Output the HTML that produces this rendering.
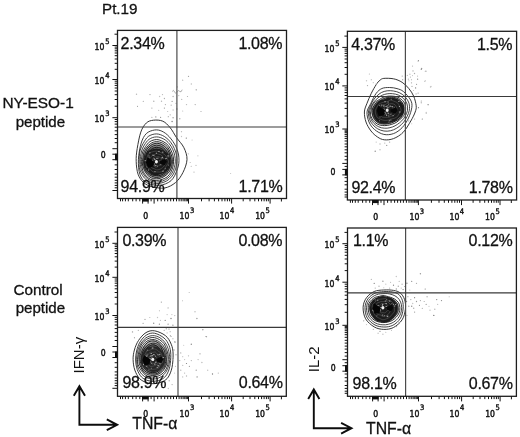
<!DOCTYPE html>
<html lang="en"><head><meta charset="utf-8"><title>Pt.19 cytokine flow cytometry</title>
<style>html,body{margin:0;padding:0;background:#fff}svg{display:block}</style></head>
<body>
<svg width="520" height="437" viewBox="0 0 520 437">
<rect width="520" height="437" fill="#fff"/>
<text x="102.00" y="14.40" font-family='"Liberation Sans", Arial, Helvetica, sans-serif' font-size="15.20" font-weight="normal" text-anchor="start" fill="#111" stroke="#111" stroke-width="0.3">Pt.19</text>
<text x="38.10" y="108.30" font-family='"Liberation Sans", Arial, Helvetica, sans-serif' font-size="15.40" font-weight="normal" text-anchor="middle" fill="#111" stroke="#111" stroke-width="0.3">NY-ESO-1</text>
<text x="40.40" y="126.60" font-family='"Liberation Sans", Arial, Helvetica, sans-serif' font-size="15.10" font-weight="normal" text-anchor="middle" fill="#111" stroke="#111" stroke-width="0.3">peptide</text>
<text x="38.10" y="294.60" font-family='"Liberation Sans", Arial, Helvetica, sans-serif' font-size="15.30" font-weight="normal" text-anchor="middle" fill="#111" stroke="#111" stroke-width="0.3">Control</text>
<text x="40.40" y="312.70" font-family='"Liberation Sans", Arial, Helvetica, sans-serif' font-size="15.10" font-weight="normal" text-anchor="middle" fill="#111" stroke="#111" stroke-width="0.3">peptide</text>
<path d="M153.6 120.2C150.8 120.5 148.4 121.0 146.3 123.0C144.2 125.0 142.3 127.8 140.8 132.1C139.3 136.4 138.0 143.7 137.2 148.6C136.4 153.5 136.0 157.2 136.2 161.5C136.3 165.8 136.9 170.8 138.1 174.3C139.3 177.8 141.3 180.4 143.6 182.5C145.9 184.6 148.3 185.7 151.8 186.6C155.3 187.5 160.6 188.7 164.6 188.0C168.6 187.3 172.5 185.1 175.6 182.5C178.7 179.9 181.1 176.2 183.0 172.4C184.9 168.6 186.8 163.7 187.0 159.6C187.2 155.5 185.7 151.4 183.9 147.7C182.2 144.0 178.8 140.9 176.5 137.6C174.2 134.2 172.4 130.3 170.1 127.6C167.8 124.9 165.6 122.4 162.8 121.2C160.1 120.0 156.3 119.9 153.6 120.2Z" fill="none" stroke="#2a2a2a" stroke-width="0.95"/>
<path d="M154.6 130.0C152.0 130.4 148.5 131.4 146.3 133.6C144.1 135.8 142.5 138.8 141.2 143.1C139.9 147.4 138.6 154.4 138.4 159.6C138.2 164.8 138.6 170.5 139.9 174.3C141.2 178.1 143.1 180.7 146.3 182.5C149.5 184.3 155.0 185.6 159.1 185.3C163.2 185.0 167.9 183.4 171.0 180.7C174.1 177.9 176.2 172.6 177.5 168.8C178.8 165.0 179.2 161.5 178.9 157.8C178.7 154.1 177.6 150.3 176.0 146.8C174.4 143.3 171.5 139.3 169.2 136.7C166.8 134.1 164.3 132.3 161.9 131.2C159.5 130.1 157.2 129.6 154.6 130.0Z" fill="none" stroke="#2a2a2a" stroke-width="0.90"/>
<path d="M139.2 161.8C139.2 159.9 139.1 158.2 139.3 156.2C139.4 154.3 139.6 152.2 140.2 150.1C140.9 147.9 141.8 145.8 143.1 143.5C144.5 141.3 146.0 138.2 148.2 136.5C150.4 134.9 153.7 133.9 156.4 133.9C159.1 133.9 162.2 135.2 164.6 136.6C167.0 138.0 169.0 140.2 170.6 142.2C172.3 144.2 173.4 146.6 174.4 148.7C175.4 150.9 176.1 153.1 176.5 155.3C176.9 157.5 177.1 159.7 176.9 161.8C176.8 163.9 176.3 166.0 175.8 168.1C175.2 170.1 174.5 172.3 173.4 174.1C172.3 176.0 170.8 177.9 169.1 179.3C167.4 180.7 165.2 181.8 163.1 182.5C161.0 183.2 158.6 183.6 156.4 183.5C154.2 183.4 151.8 182.9 149.8 182.0C147.8 181.2 146.0 179.7 144.5 178.2C143.1 176.6 142.0 174.7 141.1 172.9C140.3 171.1 139.7 169.2 139.3 167.3C139.0 165.5 139.2 163.7 139.2 161.8Z" fill="none" stroke="#262626" stroke-width="0.85"/>
<path d="M140.3 161.8C140.2 160.1 140.3 158.4 140.5 156.6C140.7 154.8 141.0 153.0 141.6 151.0C142.2 149.1 143.0 147.1 144.3 145.1C145.5 143.2 147.1 140.7 149.1 139.3C151.1 137.9 153.9 136.9 156.4 136.9C158.9 136.8 161.6 137.9 163.8 139.1C166.0 140.2 167.9 142.1 169.4 143.9C170.9 145.7 172.0 147.9 172.9 149.8C173.8 151.8 174.4 153.8 174.8 155.8C175.2 157.8 175.3 159.8 175.3 161.8C175.2 163.8 174.9 165.7 174.3 167.6C173.8 169.5 173.1 171.5 172.0 173.2C171.0 174.9 169.7 176.6 168.1 177.9C166.5 179.2 164.6 180.3 162.6 181.0C160.7 181.6 158.5 182.1 156.4 182.0C154.3 181.9 152.1 181.4 150.3 180.6C148.5 179.7 146.8 178.3 145.4 176.9C144.1 175.5 143.1 173.7 142.3 172.1C141.5 170.4 140.9 168.6 140.6 166.9C140.3 165.2 140.3 163.5 140.3 161.8Z" fill="none" stroke="#262626" stroke-width="0.85"/>
<path d="M142.0 161.8C142.0 160.3 142.2 158.8 142.5 157.3C142.8 155.8 143.2 154.2 143.9 152.7C144.5 151.2 145.3 149.6 146.5 148.1C147.6 146.7 149.1 145.2 150.7 144.3C152.4 143.4 154.5 142.7 156.4 142.6C158.3 142.6 160.5 143.1 162.2 143.9C164.0 144.7 165.6 146.0 166.9 147.3C168.3 148.6 169.4 150.2 170.2 151.7C171.1 153.3 171.8 155.0 172.2 156.7C172.6 158.3 172.8 160.1 172.8 161.8C172.8 163.5 172.6 165.3 172.0 166.9C171.5 168.5 170.8 170.1 169.8 171.5C168.8 172.9 167.6 174.3 166.2 175.3C164.8 176.4 163.2 177.3 161.6 177.8C160.0 178.4 158.1 178.7 156.4 178.7C154.7 178.7 152.8 178.3 151.3 177.6C149.7 176.9 148.3 175.8 147.1 174.6C145.9 173.5 145.0 172.0 144.2 170.7C143.5 169.3 142.9 167.8 142.6 166.3C142.2 164.8 142.1 163.3 142.0 161.8Z" fill="#ababab"/>
<path d="M143.0 161.8C143.0 160.4 143.2 159.0 143.5 157.6C143.9 156.2 144.4 154.9 145.1 153.6C145.8 152.3 146.7 151.0 147.8 150.0C148.9 148.9 150.2 147.9 151.7 147.3C153.1 146.6 154.8 146.2 156.4 146.2C158.0 146.1 159.7 146.5 161.2 147.0C162.7 147.6 164.2 148.4 165.4 149.4C166.7 150.3 167.9 151.5 168.8 152.8C169.7 154.1 170.5 155.6 170.9 157.1C171.4 158.6 171.7 160.2 171.7 161.8C171.7 163.4 171.4 165.0 170.9 166.5C170.3 168.0 169.5 169.4 168.6 170.6C167.6 171.8 166.4 172.9 165.1 173.8C163.8 174.6 162.4 175.3 160.9 175.8C159.5 176.2 157.9 176.5 156.4 176.4C154.9 176.4 153.3 176.1 151.9 175.6C150.5 175.0 149.2 174.2 148.1 173.2C147.0 172.3 146.0 171.1 145.3 169.9C144.5 168.7 143.9 167.3 143.6 166.0C143.2 164.6 143.0 163.2 143.0 161.8Z" fill="#666"/>
<path d="M141.3 161.8C141.3 160.2 141.5 158.7 141.8 157.0C142.0 155.4 142.1 153.6 142.7 151.9C143.3 150.1 144.3 148.5 145.5 146.7C146.7 145.0 148.0 142.8 149.9 141.6C151.7 140.5 154.2 139.6 156.4 139.6C158.6 139.5 161.0 140.5 163.0 141.5C165.0 142.4 166.9 143.9 168.3 145.5C169.6 147.1 170.5 149.2 171.3 151.0C172.1 152.8 172.9 154.5 173.2 156.3C173.6 158.1 173.6 160.0 173.5 161.8C173.5 163.6 173.3 165.4 172.8 167.1C172.4 168.9 171.7 170.7 170.8 172.3C169.9 173.9 168.7 175.6 167.3 176.8C165.8 178.0 163.9 178.8 162.1 179.4C160.3 180.0 158.3 180.5 156.4 180.5C154.5 180.5 152.4 180.1 150.7 179.4C149.0 178.6 147.3 177.4 146.1 176.0C144.8 174.7 144.0 172.9 143.2 171.4C142.5 169.8 142.1 168.2 141.8 166.6C141.4 165.0 141.3 163.4 141.3 161.8Z" fill="none" stroke="#0c0c0c" stroke-width="0.85"/>
<path d="M142.2 161.8C142.2 160.3 142.8 159.0 143.1 157.5C143.3 155.9 143.2 154.2 143.8 152.6C144.3 151.0 145.2 149.5 146.3 147.9C147.5 146.4 148.8 144.6 150.5 143.6C152.2 142.5 154.4 141.7 156.4 141.6C158.4 141.6 160.7 142.2 162.5 143.1C164.3 143.9 166.1 145.3 167.4 146.7C168.6 148.2 169.3 150.2 170.1 151.9C170.8 153.5 171.5 155.1 171.9 156.8C172.3 158.4 172.4 160.1 172.4 161.8C172.3 163.5 172.0 165.1 171.6 166.7C171.1 168.3 170.6 170.0 169.6 171.4C168.7 172.8 167.4 174.1 166.1 175.2C164.8 176.2 163.2 177.2 161.6 177.8C160.0 178.5 158.1 178.9 156.4 178.9C154.7 178.9 152.7 178.6 151.2 177.9C149.6 177.2 148.2 175.8 147.1 174.6C146.0 173.3 145.2 171.9 144.5 170.5C143.8 169.1 143.3 167.6 142.9 166.2C142.5 164.7 142.2 163.3 142.2 161.8Z" fill="none" stroke="#0c0c0c" stroke-width="0.85"/>
<path d="M143.8 161.8C143.8 160.5 144.0 159.2 144.2 157.8C144.4 156.5 144.5 155.0 145.0 153.5C145.5 152.0 146.1 150.4 147.1 149.1C148.2 147.7 149.5 146.2 151.0 145.3C152.6 144.3 154.6 143.4 156.4 143.3C158.2 143.2 160.3 143.9 161.9 144.7C163.6 145.5 165.2 146.8 166.4 148.1C167.5 149.4 168.4 151.1 169.1 152.6C169.7 154.1 169.9 155.8 170.3 157.3C170.6 158.8 171.2 160.3 171.1 161.8C171.1 163.3 170.5 164.8 170.0 166.2C169.5 167.7 169.1 169.1 168.3 170.5C167.6 171.8 166.6 173.2 165.4 174.2C164.2 175.2 162.6 175.8 161.1 176.4C159.6 176.9 158.0 177.5 156.4 177.5C154.8 177.4 153.2 176.7 151.8 176.1C150.3 175.4 149.0 174.6 147.9 173.5C146.8 172.5 146.0 171.1 145.4 169.8C144.8 168.5 144.4 167.1 144.2 165.8C143.9 164.4 143.8 163.1 143.8 161.8Z" fill="none" stroke="#0c0c0c" stroke-width="0.85"/>
<path d="M144.9 161.8C144.9 160.6 145.3 159.5 145.5 158.2C145.7 157.0 145.7 155.7 146.2 154.4C146.6 153.1 147.2 151.7 148.1 150.4C149.0 149.1 150.1 147.6 151.5 146.8C152.9 145.9 154.7 145.3 156.4 145.2C158.1 145.2 159.9 145.6 161.4 146.3C162.9 147.0 164.3 148.2 165.4 149.5C166.4 150.7 167.0 152.3 167.6 153.6C168.3 155.0 168.8 156.3 169.0 157.7C169.3 159.1 169.1 160.4 169.1 161.8C169.1 163.2 169.2 164.6 168.9 165.9C168.6 167.2 167.9 168.5 167.2 169.7C166.5 170.9 165.7 172.1 164.6 173.1C163.5 174.0 162.1 174.8 160.8 175.2C159.4 175.7 157.8 175.8 156.4 175.7C155.0 175.6 153.5 175.3 152.2 174.8C150.9 174.2 149.7 173.3 148.8 172.3C147.9 171.3 147.4 169.9 146.9 168.7C146.3 167.6 145.8 166.5 145.5 165.3C145.2 164.2 144.9 163.0 144.9 161.8Z" fill="none" stroke="#0c0c0c" stroke-width="0.85"/>
<path d="M146.6 161.8C146.6 160.8 146.7 159.8 146.9 158.7C147.0 157.6 147.3 156.6 147.7 155.4C148.0 154.3 148.3 152.7 149.0 151.6C149.8 150.5 150.9 149.5 152.2 148.8C153.4 148.0 155.0 147.4 156.4 147.3C157.8 147.2 159.5 147.7 160.8 148.3C162.1 148.9 163.4 149.8 164.3 150.9C165.2 151.9 165.6 153.5 166.2 154.7C166.7 155.9 167.2 157.0 167.5 158.2C167.8 159.4 167.9 160.6 167.9 161.8C167.9 163.0 167.9 164.3 167.6 165.4C167.3 166.6 166.7 167.8 166.1 168.8C165.4 169.9 164.6 171.0 163.6 171.7C162.6 172.5 161.4 173.0 160.2 173.4C159.0 173.8 157.6 174.2 156.4 174.2C155.2 174.2 153.8 173.7 152.7 173.2C151.5 172.8 150.4 172.0 149.6 171.2C148.7 170.4 148.0 169.3 147.5 168.2C147.1 167.2 147.1 166.0 146.9 164.9C146.8 163.8 146.6 162.8 146.6 161.8Z" fill="none" stroke="#0c0c0c" stroke-width="0.85"/>
<path d="M147.9 161.8C147.9 160.9 147.9 160.0 148.1 159.1C148.2 158.2 148.4 157.2 148.7 156.2C149.1 155.2 149.4 154.1 150.1 153.1C150.7 152.1 151.6 150.9 152.6 150.2C153.7 149.6 155.2 149.2 156.4 149.2C157.6 149.2 159.0 149.7 160.1 150.3C161.3 150.9 162.3 151.6 163.2 152.5C164.0 153.4 164.5 154.5 165.0 155.6C165.5 156.6 165.8 157.6 166.1 158.7C166.4 159.7 166.6 160.8 166.6 161.8C166.6 162.8 166.4 163.9 166.1 164.9C165.7 165.9 165.3 166.9 164.7 167.8C164.1 168.7 163.4 169.6 162.6 170.3C161.8 171.1 160.8 171.8 159.7 172.1C158.7 172.4 157.5 172.4 156.4 172.4C155.3 172.3 154.1 172.5 153.1 172.1C152.1 171.7 151.2 170.7 150.5 170.0C149.7 169.2 149.1 168.3 148.7 167.4C148.3 166.5 147.9 165.5 147.8 164.6C147.7 163.7 147.9 162.7 147.9 161.8Z" fill="none" stroke="#0c0c0c" stroke-width="0.85"/>
<path d="M143.7 161.8C143.7 160.5 143.9 159.1 144.3 157.9C144.7 156.6 145.5 155.5 146.2 154.4C146.9 153.3 147.5 151.8 148.6 151.0C149.6 150.2 151.1 149.9 152.4 149.5C153.7 149.2 155.1 148.9 156.4 148.8C157.7 148.8 159.2 148.9 160.5 149.2C161.8 149.6 163.1 150.2 164.3 150.9C165.5 151.6 166.8 152.5 167.7 153.6C168.6 154.7 169.3 156.1 169.7 157.5C170.2 158.8 170.5 160.4 170.5 161.8C170.5 163.2 170.3 164.8 169.8 166.2C169.3 167.5 168.4 168.7 167.5 169.8C166.5 170.9 165.5 172.0 164.3 172.7C163.2 173.4 161.7 173.6 160.4 174.0C159.0 174.5 157.7 175.3 156.4 175.4C155.1 175.4 153.5 175.0 152.3 174.4C151.1 173.9 150.0 172.9 148.9 172.1C147.9 171.2 146.9 170.3 146.1 169.3C145.4 168.2 144.7 167.0 144.3 165.7C143.9 164.5 143.7 163.1 143.7 161.8Z" fill="#1b1b1b"/>
<path d="M146.4 161.8C146.5 160.7 146.9 159.9 147.1 158.8C147.3 157.7 147.1 156.4 147.6 155.4C148.0 154.4 148.9 153.3 149.8 152.7C150.7 152.1 152.0 152.0 153.1 151.7C154.2 151.4 155.3 151.0 156.4 151.1C157.5 151.2 158.5 151.7 159.6 152.1C160.6 152.4 161.6 152.8 162.6 153.3C163.5 153.9 164.6 154.4 165.4 155.3C166.1 156.1 166.6 157.2 167.1 158.3C167.6 159.4 168.6 160.6 168.5 161.8C168.5 163.0 167.5 164.2 166.9 165.2C166.3 166.3 165.6 167.0 165.0 168.0C164.3 169.0 164.1 170.5 163.2 171.1C162.3 171.8 160.8 171.8 159.7 172.0C158.6 172.1 157.5 171.9 156.4 171.9C155.3 171.8 154.1 172.2 153.1 171.9C152.2 171.5 151.5 170.4 150.6 169.7C149.8 169.1 148.8 168.7 148.0 167.9C147.2 167.1 146.3 166.2 146.0 165.2C145.7 164.2 146.2 162.9 146.4 161.8Z" fill="none" stroke="#7a7a7a" stroke-width="0.40"/>
<path d="M148.5 161.8C148.3 161.1 148.7 160.1 149.0 159.4C149.4 158.7 150.1 158.2 150.6 157.6C151.1 157.0 151.4 156.2 152.0 155.8C152.6 155.3 153.4 155.2 154.2 154.9C154.9 154.5 155.6 153.7 156.4 153.6C157.2 153.6 158.0 154.1 158.8 154.3C159.7 154.5 160.7 154.5 161.3 155.0C162.0 155.5 162.4 156.4 162.8 157.1C163.3 157.8 163.6 158.5 164.0 159.3C164.4 160.1 165.1 160.9 165.3 161.8C165.5 162.7 165.3 163.8 165.0 164.6C164.7 165.4 164.0 166.2 163.4 166.9C162.8 167.5 162.0 168.1 161.3 168.5C160.6 169.0 159.7 169.4 158.9 169.6C158.1 169.8 157.2 169.9 156.4 169.8C155.6 169.6 154.9 169.0 154.2 168.7C153.4 168.4 152.5 168.4 151.9 167.9C151.3 167.5 150.8 166.8 150.5 166.1C150.2 165.4 150.3 164.6 149.9 163.9C149.6 163.2 148.6 162.5 148.5 161.8Z" fill="none" stroke="#7a7a7a" stroke-width="0.40"/>
<path d="M152.5 161.8C152.6 161.3 152.2 160.9 152.3 160.5C152.4 160.0 152.7 159.7 152.9 159.2C153.1 158.8 153.1 158.2 153.5 157.7C153.8 157.3 154.2 156.7 154.7 156.6C155.2 156.5 155.8 157.1 156.4 157.0C157.0 157.0 157.5 156.6 158.1 156.6C158.6 156.6 159.2 156.9 159.7 157.2C160.2 157.5 160.8 157.9 161.0 158.4C161.3 158.9 161.1 159.7 161.2 160.2C161.2 160.8 161.3 161.3 161.3 161.8C161.2 162.3 161.2 162.8 161.0 163.3C160.8 163.7 160.5 164.2 160.2 164.5C159.8 164.9 159.4 165.1 159.0 165.4C158.7 165.8 158.4 166.2 157.9 166.5C157.5 166.8 156.9 167.1 156.4 167.1C155.9 167.2 155.2 167.0 154.8 166.8C154.3 166.5 154.0 165.9 153.7 165.6C153.3 165.2 152.8 165.0 152.5 164.7C152.1 164.3 151.6 163.8 151.6 163.4C151.6 162.9 152.3 162.3 152.5 161.8Z" fill="none" stroke="#7a7a7a" stroke-width="0.40"/>
<path d="M148.6 157.2h1.1M154.4 171.6h1.1M151.2 166.2h1.5M161.9 152.2h1.5M162.0 157.5h0.8M157.1 166.1h0.8M148.3 160.4h1.1M155.0 165.6h1.5M147.6 162.9h1.1M151.9 155.1h0.8M144.6 160.7h1.5M148.5 155.8h0.8M167.7 156.8h0.8M151.8 161.0h1.5M155.9 153.2h1.1M167.9 165.1h0.8M151.3 165.0h1.1M162.2 171.2h1.5M167.4 155.8h1.5M153.6 158.8h1.5M149.7 161.0h0.8M164.9 168.7h0.8M153.0 155.3h1.5M154.1 159.6h1.5M165.3 162.8h0.8M154.1 163.9h0.8M158.2 151.4h1.5M159.5 160.9h0.8M165.3 158.5h1.5M160.3 164.8h1.1M164.7 159.2h1.1M162.0 162.1h1.5M148.0 170.0h1.1M146.5 167.0h0.8M154.3 165.1h0.8M161.2 157.9h1.5M156.2 158.4h1.5M157.7 158.1h0.8M148.3 165.1h1.1M149.3 152.9h1.1" fill="none" stroke="#d0d0d0" stroke-width="0.70"/>
<path d="M154.0 161.8l-6.5 -4.5l-1.5 5l2 5.5l5 -1Z" fill="#050505"/>
<path d="M159.6 161.3l5.5 -2.5l1.8 3l-2.2 3.5l-4.5 -1.5Z" fill="#080808"/>
<path d="M156.4 161.8m-1.5 0a1.5 1.7 0 1 0 3 0a1.5 1.7 0 1 0 -3 0Z" fill="#f4f4f4"/>
<circle cx="136.5" cy="94.2" r="0.70" fill="#b8b8b8"/>
<circle cx="150.0" cy="94.6" r="0.60" fill="#9a9a9a"/>
<circle cx="159.6" cy="96.5" r="0.70" fill="#c4c4c4"/>
<circle cx="162.5" cy="94.6" r="0.65" fill="#b8b8b8"/>
<circle cx="143.3" cy="101.3" r="0.65" fill="#acacac"/>
<circle cx="153.8" cy="101.3" r="0.70" fill="#acacac"/>
<circle cx="161.5" cy="101.3" r="0.70" fill="#b8b8b8"/>
<circle cx="164.4" cy="98.5" r="0.65" fill="#acacac"/>
<circle cx="137.5" cy="106.2" r="0.55" fill="#8c8c8c"/>
<circle cx="151.9" cy="108.1" r="0.55" fill="#9a9a9a"/>
<circle cx="158.7" cy="110.4" r="0.55" fill="#c4c4c4"/>
<circle cx="164.4" cy="108.1" r="0.65" fill="#9a9a9a"/>
<circle cx="171.2" cy="105.2" r="0.65" fill="#b4b4b4"/>
<circle cx="173.1" cy="96.5" r="0.70" fill="#acacac"/>
<circle cx="172.1" cy="101.3" r="0.65" fill="#8c8c8c"/>
<circle cx="170.2" cy="114.8" r="0.60" fill="#acacac"/>
<circle cx="173.1" cy="110.0" r="0.65" fill="#b8b8b8"/>
<circle cx="176.9" cy="109.0" r="0.65" fill="#8c8c8c"/>
<circle cx="182.7" cy="111.0" r="0.55" fill="#b8b8b8"/>
<circle cx="186.5" cy="104.6" r="0.70" fill="#b8b8b8"/>
<circle cx="195.2" cy="104.6" r="0.70" fill="#acacac"/>
<circle cx="201.0" cy="111.5" r="0.60" fill="#a8a8a8"/>
<circle cx="182.7" cy="80.2" r="0.60" fill="#acacac"/>
<circle cx="188.5" cy="76.3" r="0.65" fill="#9a9a9a"/>
<circle cx="191.3" cy="84.0" r="0.65" fill="#b8b8b8"/>
<circle cx="196.2" cy="89.8" r="0.60" fill="#7c7c7c"/>
<circle cx="187.5" cy="96.5" r="0.60" fill="#acacac"/>
<circle cx="181.7" cy="99.4" r="0.65" fill="#b8b8b8"/>
<circle cx="178.8" cy="95.6" r="0.60" fill="#b8b8b8"/>
<circle cx="173.1" cy="117.7" r="0.70" fill="#9a9a9a"/>
<circle cx="179.8" cy="118.7" r="0.70" fill="#acacac"/>
<circle cx="172.1" cy="121.5" r="0.70" fill="#7c7c7c"/>
<circle cx="168.3" cy="116.7" r="0.60" fill="#a8a8a8"/>
<circle cx="151.9" cy="117.3" r="0.60" fill="#a8a8a8"/>
<circle cx="155.8" cy="116.9" r="0.70" fill="#9a9a9a"/>
<circle cx="160.6" cy="117.3" r="0.60" fill="#8c8c8c"/>
<circle cx="165.4" cy="104.6" r="0.65" fill="#acacac"/>
<circle cx="167.7" cy="111.5" r="0.55" fill="#b8b8b8"/>
<circle cx="176.0" cy="103.3" r="0.65" fill="#b4b4b4"/>
<circle cx="177.3" cy="86.9" r="0.55" fill="#a8a8a8"/>
<circle cx="181.5" cy="131.7" r="0.65" fill="#b8b8b8"/>
<circle cx="181.5" cy="136.5" r="0.65" fill="#c4c4c4"/>
<circle cx="186.3" cy="138.1" r="0.65" fill="#7c7c7c"/>
<circle cx="192.1" cy="140.0" r="0.60" fill="#c4c4c4"/>
<circle cx="188.3" cy="153.8" r="0.65" fill="#b8b8b8"/>
<circle cx="197.9" cy="155.8" r="0.65" fill="#c4c4c4"/>
<circle cx="190.2" cy="162.5" r="0.60" fill="#b8b8b8"/>
<circle cx="196.0" cy="165.4" r="0.55" fill="#b8b8b8"/>
<circle cx="191.2" cy="166.3" r="0.60" fill="#b8b8b8"/>
<circle cx="194.0" cy="172.1" r="0.70" fill="#b8b8b8"/>
<circle cx="230.6" cy="173.5" r="0.60" fill="#c4c4c4"/>
<path d="M176.90 30.40V198.50" stroke="#4c4c4c" stroke-width="1.2" fill="none"/><path d="M117.50 127.00H286.50" stroke="#3a3a3a" stroke-width="1.15" fill="none"/>
<rect x="117.50" y="30.40" width="169.00" height="168.10" fill="none" stroke="#1e1e1e" stroke-width="1.3"/>
<path d="M201.5 198.5v2.8M209.1 198.5v2.8M214.4 198.5v2.8M218.6 198.5v2.8M222.0 198.5v2.8M224.9 198.5v2.8M227.4 198.5v2.8M229.6 198.5v2.8M243.2 198.5v2.8M250.0 198.5v2.8M254.8 198.5v2.8M258.5 198.5v2.8M261.6 198.5v2.8M264.1 198.5v2.8M266.4 198.5v2.8M268.3 198.5v2.8M281.4 198.5v3.0M188.5 198.5v5.1M231.6 198.5v5.1M270.1 198.5v5.1M120.5 198.5v2.8M122.6 198.5v2.8M125.4 198.5v2.8M128.3 198.5v2.8M132.7 198.5v2.8M136.1 198.5v2.8M139.8 198.5v2.8M151.1 198.5v2.8M157.7 198.5v2.8M161.2 198.5v2.8M164.7 198.5v2.8M167.7 198.5v2.8M170.7 198.5v2.8M173.5 198.5v2.8M176.5 198.5v2.8M179.1 198.5v2.8M181.2 198.5v2.8M183.1 198.5v2.8M184.8 198.5v2.8M186.2 198.5v2.8M187.4 198.5v2.8M142.6 198.5v5.1M148.1 198.5v5.1M154.1 198.5v5.1M117.5 106.2h-2.8M117.5 99.5h-2.8M117.5 94.7h-2.8M117.5 91.0h-2.8M117.5 88.0h-2.8M117.5 85.4h-2.8M117.5 83.2h-2.8M117.5 81.2h-2.8M117.5 69.3h-2.8M117.5 63.3h-2.8M117.5 59.0h-2.8M117.5 55.7h-2.8M117.5 53.0h-2.8M117.5 50.8h-2.8M117.5 48.8h-2.8M117.5 47.1h-2.8M117.5 34.2h-3.0M117.5 117.7h-5.1M117.5 79.5h-5.1M117.5 45.5h-5.1M117.5 187.8h-2.8M117.5 185.4h-2.8M117.5 182.9h-2.8M117.5 180.3h-2.8M117.5 177.2h-2.8M117.5 174.1h-2.8M117.5 169.5h-2.8M117.5 164.9h-2.8M117.5 142.7h-2.8M117.5 138.5h-2.8M117.5 134.6h-2.8M117.5 130.8h-2.8M117.5 127.2h-2.8M117.5 124.1h-2.8M117.5 121.6h-2.8M117.5 119.5h-2.8M117.5 159.7h-5.1M117.5 154.2h-5.1M117.5 148.7h-5.1M117.5 190.5h-5.1" stroke="#141414" stroke-width="1.0" fill="none"/>
<rect x="142.10" y="198.50" width="6.50" height="3.1" fill="#111"/>
<rect x="115.00" y="153.70" width="2.5" height="6.50" fill="#111"/>
<g font-family='"DejaVu Sans Condensed", "DejaVu Sans", "Liberation Sans", sans-serif' font-size="8.6" font-weight="normal" fill="#111" stroke="#111" stroke-width="0.4"><text x="145.70" y="218.80" text-anchor="middle">0</text><text x="179.60" y="218.80">10<tspan dy="-6.2" dx="0.5" font-size="7.5">3</tspan></text><text x="219.60" y="218.80">10<tspan dy="-6.2" dx="0.5" font-size="7.5">4</tspan></text><text x="255.20" y="218.80">10<tspan dy="-6.2" dx="0.5" font-size="7.5">5</tspan></text><text x="103.10" y="158.30" text-anchor="middle">0</text><text x="94.60" y="122.10">10<tspan dy="-6.0" dx="0.8" font-size="7.5">3</tspan></text><text x="94.60" y="83.90">10<tspan dy="-6.0" dx="0.8" font-size="7.5">4</tspan></text><text x="94.60" y="49.90">10<tspan dy="-6.0" dx="0.8" font-size="7.5">5</tspan></text></g>
<g font-family='"Liberation Sans", Arial, Helvetica, sans-serif' font-size="16" letter-spacing="-0.32" fill="#111" stroke="#111" stroke-width="0.28"><text x="120.60" y="48.60" text-anchor="start">2.34%</text><text x="282.20" y="49.20" text-anchor="end">1.08%</text><text x="120.60" y="191.90" text-anchor="start">94.9%</text><text x="282.40" y="191.90" text-anchor="end">1.71%</text></g>
<path d="M172.2 91.5q1.2 -2.5 2.4 0.4t2.4 0.2t2.6 -0.8t2.6 -1.6" fill="none" stroke="#777" stroke-width="0.6"/>
<path d="M383.8 78.4C381.6 78.6 381.3 79.2 380.0 80.2C378.7 81.2 377.6 82.4 376.2 84.6C374.8 86.8 372.9 90.1 371.3 93.3C369.7 96.5 368.0 100.7 366.8 103.8C365.6 106.9 364.5 109.0 364.4 112.0C364.3 115.0 364.9 118.8 366.0 122.0C367.1 125.2 369.1 128.5 371.0 131.0C372.9 133.5 375.3 135.5 377.5 137.0C379.7 138.5 381.6 139.5 384.3 139.8C387.0 140.1 390.4 139.8 393.5 138.6C396.6 137.4 400.1 135.4 403.0 132.5C405.9 129.6 408.8 124.4 410.8 121.0C412.8 117.6 414.3 114.5 415.2 112.0C416.1 109.5 416.4 108.4 416.2 105.8C415.9 103.2 414.9 99.1 413.7 96.2C412.5 93.3 410.7 90.8 408.8 88.5C406.9 86.2 404.7 83.9 402.1 82.3C399.6 80.7 396.6 79.4 393.5 78.8C390.4 78.2 386.1 78.2 383.8 78.4Z" fill="none" stroke="#2a2a2a" stroke-width="0.95"/>
<path d="M389.6 87.5C387.1 87.5 384.1 87.5 381.9 88.5C379.7 89.5 378.1 90.8 376.2 93.3C374.3 95.8 372.1 100.7 370.6 103.8C369.1 106.9 367.3 109.0 367.0 112.0C366.7 115.0 367.8 119.1 369.0 122.0C370.2 124.9 372.0 127.4 374.5 129.5C377.0 131.6 380.6 133.7 383.8 134.4C387.0 135.1 390.4 134.7 393.5 133.6C396.6 132.5 399.6 130.3 402.1 127.7C404.6 125.1 406.9 121.4 408.5 118.0C410.1 114.6 411.4 110.5 411.8 107.5C412.2 104.5 412.0 102.7 410.6 100.0C409.2 97.3 405.8 93.5 403.5 91.6C401.2 89.7 399.3 89.3 397.0 88.6C394.7 87.9 392.1 87.5 389.6 87.5Z" fill="none" stroke="#2a2a2a" stroke-width="0.90"/>
<path d="M368.6 110.3C369.0 108.4 370.1 106.7 370.9 105.0C371.7 103.3 372.3 101.7 373.3 100.2C374.3 98.7 375.5 97.3 376.8 96.1C378.2 94.8 379.7 93.3 381.4 92.5C383.1 91.6 385.2 91.1 387.2 90.8C389.2 90.6 391.4 90.6 393.5 91.0C395.6 91.3 397.9 91.9 399.8 92.9C401.8 93.9 403.9 95.3 405.4 97.1C406.9 98.8 408.3 101.0 409.0 103.2C409.6 105.4 409.7 108.1 409.3 110.3C409.0 112.5 407.9 114.7 407.0 116.7C406.0 118.7 404.9 120.6 403.6 122.2C402.3 123.8 400.7 125.3 399.0 126.6C397.3 127.8 395.5 129.1 393.5 129.8C391.6 130.6 389.3 131.1 387.2 131.2C385.1 131.3 382.7 130.9 380.7 130.2C378.7 129.5 376.7 128.4 375.1 127.0C373.4 125.7 372.0 123.9 370.9 122.1C369.8 120.4 369.0 118.3 368.7 116.3C368.3 114.4 368.3 112.2 368.6 110.3Z" fill="none" stroke="#262626" stroke-width="0.85"/>
<path d="M369.7 110.3C370.1 108.5 371.0 106.8 371.8 105.3C372.6 103.8 373.5 102.4 374.6 101.1C375.6 99.9 376.8 98.8 378.1 97.8C379.4 96.8 380.8 95.8 382.3 95.2C383.8 94.5 385.5 94.1 387.2 93.8C388.9 93.5 390.8 93.5 392.6 93.7C394.5 93.9 396.5 94.2 398.3 95.0C400.1 95.8 402.0 97.0 403.5 98.5C404.9 99.9 406.3 101.9 407.0 103.9C407.6 105.9 407.7 108.3 407.5 110.3C407.2 112.3 406.2 114.4 405.2 116.2C404.3 117.9 403.1 119.5 401.7 120.9C400.4 122.2 398.9 123.4 397.4 124.4C395.9 125.4 394.3 126.3 392.6 126.9C390.9 127.5 389.0 128.0 387.2 128.2C385.4 128.3 383.3 128.2 381.5 127.8C379.7 127.3 377.8 126.5 376.2 125.4C374.7 124.3 373.2 122.8 372.1 121.2C371.1 119.7 370.3 117.8 369.9 115.9C369.5 114.1 369.4 112.1 369.7 110.3Z" fill="none" stroke="#262626" stroke-width="0.85"/>
<path d="M371.5 110.3C371.7 108.7 372.4 107.1 373.2 105.8C374.0 104.4 375.1 103.3 376.2 102.3C377.3 101.3 378.5 100.6 379.7 99.9C380.9 99.3 382.0 98.7 383.3 98.3C384.6 97.8 385.8 97.5 387.2 97.2C388.6 97.0 390.0 96.8 391.6 96.9C393.1 96.9 394.8 97.1 396.4 97.6C398.0 98.2 399.7 99.0 401.1 100.2C402.4 101.4 403.8 103.0 404.4 104.7C405.1 106.4 405.3 108.5 405.1 110.3C404.9 112.1 404.0 114.0 403.0 115.4C402.1 116.9 400.8 118.2 399.5 119.2C398.2 120.3 396.9 121.0 395.5 121.7C394.2 122.4 392.9 123.0 391.5 123.4C390.1 123.9 388.7 124.4 387.2 124.6C385.7 124.8 384.1 124.9 382.5 124.7C381.0 124.5 379.2 124.0 377.8 123.2C376.4 122.4 374.9 121.3 373.9 119.9C372.9 118.6 372.1 116.9 371.7 115.3C371.3 113.7 371.2 111.9 371.5 110.3Z" fill="#ababab"/>
<path d="M372.3 110.3C372.6 108.8 373.2 107.3 374.0 106.0C374.7 104.8 375.8 103.7 376.8 102.8C377.9 101.9 379.0 101.2 380.1 100.6C381.2 99.9 382.4 99.5 383.5 99.0C384.7 98.6 385.9 98.3 387.2 98.0C388.5 97.8 389.9 97.6 391.3 97.7C392.7 97.7 394.3 97.9 395.9 98.4C397.4 98.9 399.1 99.6 400.4 100.7C401.7 101.8 403.0 103.4 403.6 105.0C404.3 106.6 404.5 108.6 404.3 110.3C404.1 112.0 403.2 113.8 402.3 115.2C401.4 116.6 400.1 117.8 398.8 118.8C397.6 119.7 396.3 120.4 395.0 121.0C393.7 121.7 392.5 122.1 391.2 122.6C389.9 123.0 388.6 123.4 387.2 123.6C385.8 123.8 384.3 123.9 382.8 123.7C381.4 123.5 379.8 123.1 378.4 122.4C377.1 121.7 375.7 120.6 374.7 119.4C373.7 118.2 372.9 116.6 372.5 115.1C372.2 113.5 372.1 111.8 372.3 110.3Z" fill="#666"/>
<path d="M371.0 110.3C371.3 108.6 371.5 106.9 372.3 105.5C373.0 104.0 374.3 102.8 375.5 101.8C376.7 100.8 378.1 100.3 379.4 99.6C380.7 98.8 381.7 97.9 383.0 97.4C384.3 96.9 385.7 96.5 387.2 96.3C388.7 96.1 390.2 96.0 391.8 96.1C393.5 96.2 395.3 96.3 397.0 96.9C398.6 97.5 400.5 98.4 401.8 99.7C403.2 100.9 404.5 102.7 405.1 104.5C405.7 106.3 405.8 108.4 405.6 110.3C405.4 112.2 404.7 114.1 403.7 115.7C402.8 117.2 401.2 118.4 399.9 119.5C398.6 120.7 397.4 121.7 396.1 122.5C394.7 123.3 393.2 123.8 391.8 124.3C390.3 124.8 388.8 125.2 387.2 125.4C385.6 125.6 383.9 125.8 382.3 125.5C380.6 125.3 378.7 124.9 377.2 124.0C375.7 123.2 374.3 121.8 373.2 120.4C372.2 119.0 371.1 117.3 370.7 115.7C370.3 114.0 370.7 112.0 371.0 110.3Z" fill="none" stroke="#0c0c0c" stroke-width="0.85"/>
<path d="M372.1 110.3C372.3 108.8 373.1 107.2 373.8 106.0C374.6 104.7 375.5 103.4 376.5 102.6C377.6 101.7 379.0 101.2 380.2 100.6C381.3 100.0 382.2 99.2 383.4 98.7C384.6 98.1 385.9 97.8 387.2 97.5C388.5 97.3 389.9 97.2 391.4 97.3C392.9 97.3 394.7 97.4 396.2 98.0C397.7 98.5 399.3 99.5 400.5 100.6C401.7 101.8 402.7 103.5 403.3 105.1C403.8 106.7 404.0 108.6 403.8 110.3C403.7 112.0 403.1 113.8 402.3 115.2C401.5 116.7 400.3 118.0 399.2 119.0C398.0 120.0 396.4 120.6 395.1 121.2C393.8 121.9 392.6 122.5 391.3 122.9C390.0 123.4 388.6 123.7 387.2 123.8C385.8 124.0 384.3 124.1 382.8 123.9C381.3 123.8 379.5 123.5 378.2 122.7C376.8 122.0 375.5 120.7 374.6 119.4C373.7 118.2 372.9 116.6 372.5 115.1C372.1 113.5 371.9 111.8 372.1 110.3Z" fill="none" stroke="#0c0c0c" stroke-width="0.85"/>
<path d="M373.7 110.3C373.9 109.0 374.8 107.6 375.4 106.5C376.0 105.3 376.6 104.1 377.5 103.3C378.4 102.4 379.5 101.7 380.5 101.1C381.6 100.6 382.8 100.5 383.9 100.1C385.0 99.8 386.0 99.2 387.2 98.9C388.4 98.7 389.7 98.4 391.0 98.5C392.4 98.6 393.8 98.9 395.1 99.4C396.5 99.9 398.1 100.5 399.3 101.5C400.4 102.5 401.6 104.0 402.1 105.5C402.6 106.9 402.5 108.8 402.3 110.3C402.1 111.8 401.7 113.5 400.9 114.7C400.1 116.0 398.7 117.0 397.7 117.9C396.6 118.8 395.6 119.6 394.5 120.3C393.3 120.9 392.1 121.3 390.9 121.7C389.7 122.2 388.5 122.8 387.2 122.9C385.9 123.1 384.6 122.8 383.2 122.6C381.8 122.4 380.1 122.4 378.9 121.7C377.7 121.0 376.6 119.8 375.8 118.6C375.0 117.4 374.4 115.9 374.1 114.6C373.7 113.2 373.5 111.6 373.7 110.3Z" fill="none" stroke="#0c0c0c" stroke-width="0.85"/>
<path d="M375.1 110.3C375.3 109.1 376.0 107.9 376.6 106.9C377.2 105.8 377.9 104.9 378.7 104.1C379.5 103.4 380.5 102.9 381.5 102.4C382.4 101.9 383.2 101.3 384.2 100.9C385.1 100.5 386.1 100.2 387.2 100.1C388.3 99.9 389.4 99.7 390.6 99.8C391.8 100.0 392.9 100.3 394.2 100.7C395.4 101.2 396.8 101.7 397.8 102.6C398.9 103.5 399.8 104.7 400.3 106.0C400.9 107.3 401.3 108.9 401.1 110.3C400.9 111.7 399.8 113.0 399.0 114.1C398.3 115.3 397.4 116.2 396.5 117.1C395.6 117.9 394.6 118.5 393.6 119.1C392.6 119.7 391.6 120.3 390.6 120.6C389.5 121.0 388.4 121.1 387.2 121.3C386.0 121.4 384.8 121.6 383.6 121.5C382.3 121.3 381.0 121.0 379.8 120.4C378.7 119.8 377.5 118.9 376.7 117.9C376.0 116.9 375.5 115.4 375.3 114.2C375.0 112.9 374.8 111.5 375.1 110.3Z" fill="none" stroke="#0c0c0c" stroke-width="0.85"/>
<path d="M376.7 110.3C376.9 109.2 377.5 108.2 378.0 107.3C378.5 106.4 379.1 105.6 379.8 104.9C380.5 104.3 381.4 103.8 382.2 103.4C383.0 103.0 383.8 102.7 384.6 102.4C385.5 102.1 386.3 101.7 387.2 101.4C388.1 101.2 389.2 100.9 390.3 100.9C391.3 100.9 392.6 101.1 393.6 101.5C394.6 101.9 395.6 102.7 396.5 103.5C397.4 104.4 398.5 105.3 399.0 106.5C399.5 107.6 399.6 109.1 399.4 110.3C399.2 111.5 398.3 112.7 397.6 113.7C396.9 114.6 396.1 115.4 395.3 116.2C394.5 116.9 393.8 117.7 392.9 118.2C392.1 118.7 391.0 118.8 390.1 119.1C389.1 119.4 388.2 119.8 387.2 120.0C386.2 120.1 385.1 120.3 384.0 120.2C382.9 120.1 381.7 119.7 380.8 119.1C379.8 118.6 379.0 117.7 378.3 116.8C377.7 115.8 377.2 114.7 377.0 113.6C376.7 112.6 376.6 111.4 376.7 110.3Z" fill="none" stroke="#0c0c0c" stroke-width="0.85"/>
<path d="M378.2 110.3C378.3 109.4 378.7 108.5 379.1 107.7C379.5 106.9 380.0 106.1 380.6 105.5C381.2 105.0 382.1 104.6 382.8 104.3C383.6 104.0 384.3 103.8 385.0 103.5C385.7 103.1 386.4 102.6 387.2 102.4C388.0 102.2 388.9 102.2 389.8 102.3C390.7 102.4 391.6 102.6 392.5 103.0C393.5 103.3 394.6 103.7 395.4 104.4C396.1 105.1 396.7 106.1 397.1 107.1C397.4 108.1 397.6 109.3 397.4 110.3C397.3 111.3 396.7 112.3 396.1 113.2C395.6 114.1 395.0 114.8 394.3 115.4C393.6 116.0 392.8 116.5 392.0 116.9C391.2 117.3 390.5 117.6 389.7 117.9C388.9 118.2 388.1 118.5 387.2 118.6C386.3 118.8 385.3 119.2 384.4 119.0C383.5 118.9 382.6 118.3 381.8 117.7C381.0 117.2 380.3 116.5 379.7 115.8C379.1 115.0 378.3 114.2 378.0 113.3C377.8 112.4 378.0 111.2 378.2 110.3Z" fill="none" stroke="#0c0c0c" stroke-width="0.85"/>
<path d="M373.1 110.3C373.3 108.9 374.2 107.5 374.9 106.3C375.6 105.1 376.4 104.1 377.3 103.1C378.2 102.2 379.1 101.2 380.2 100.7C381.3 100.1 382.7 100.3 383.8 99.9C385.0 99.5 386.0 98.5 387.2 98.1C388.4 97.8 389.8 97.9 391.2 98.0C392.6 98.0 394.3 98.0 395.7 98.6C397.2 99.1 398.6 100.1 399.7 101.2C400.9 102.3 402.0 103.7 402.7 105.3C403.4 106.8 404.1 108.7 404.0 110.3C403.9 111.9 403.0 113.8 402.0 115.1C401.0 116.4 399.3 117.3 398.2 118.3C397.0 119.2 396.2 120.4 395.0 121.0C393.8 121.6 392.3 121.7 391.0 122.0C389.7 122.3 388.5 122.6 387.2 122.8C385.9 123.0 384.4 123.5 382.9 123.4C381.5 123.3 379.9 122.9 378.6 122.1C377.3 121.4 376.1 120.2 375.3 119.0C374.4 117.8 373.9 116.2 373.5 114.7C373.2 113.3 372.9 111.7 373.1 110.3Z" fill="#1b1b1b"/>
<path d="M375.4 110.3C375.6 109.1 376.6 108.0 377.1 107.0C377.7 106.0 378.0 104.9 378.8 104.2C379.6 103.5 380.8 103.1 381.7 102.8C382.7 102.4 383.6 102.3 384.5 102.1C385.4 101.9 386.2 101.8 387.2 101.5C388.2 101.2 389.4 100.1 390.5 100.1C391.6 100.0 392.6 100.8 393.8 101.2C394.9 101.7 396.6 102.0 397.5 102.8C398.5 103.7 398.9 105.1 399.5 106.3C400.1 107.6 401.1 109.0 401.0 110.3C400.9 111.6 399.6 113.0 398.9 114.1C398.2 115.3 397.6 116.4 396.7 117.2C395.7 117.9 394.3 118.3 393.2 118.6C392.1 118.9 391.1 118.9 390.1 119.2C389.1 119.5 388.2 120.1 387.2 120.3C386.2 120.5 385.0 120.4 384.0 120.3C382.9 120.1 381.8 119.8 380.7 119.3C379.6 118.8 378.2 118.3 377.3 117.5C376.5 116.6 376.0 115.2 375.7 114.0C375.4 112.8 375.1 111.5 375.4 110.3Z" fill="none" stroke="#7a7a7a" stroke-width="0.40"/>
<path d="M379.0 110.3C379.2 109.5 379.8 108.7 380.2 108.0C380.6 107.3 380.9 106.7 381.4 106.1C381.9 105.6 382.5 105.0 383.1 104.7C383.8 104.4 384.7 104.8 385.3 104.6C386.0 104.3 386.5 103.4 387.2 103.3C387.9 103.2 388.5 103.8 389.3 103.9C390.1 103.9 391.1 103.5 392.0 103.7C393.0 103.8 394.2 104.1 394.9 104.7C395.7 105.3 396.2 106.3 396.5 107.3C396.8 108.2 397.0 109.3 396.8 110.3C396.6 111.3 395.9 112.2 395.5 113.0C395.0 113.8 394.7 114.7 394.0 115.2C393.3 115.8 392.2 115.9 391.5 116.2C390.7 116.5 390.1 117.0 389.4 117.2C388.7 117.3 388.0 117.3 387.2 117.3C386.4 117.3 385.7 117.3 384.9 117.3C384.1 117.3 383.0 117.4 382.3 117.1C381.5 116.7 381.0 115.9 380.4 115.2C379.9 114.5 379.4 113.7 379.2 112.9C378.9 112.1 378.9 111.1 379.0 110.3Z" fill="none" stroke="#7a7a7a" stroke-width="0.40"/>
<path d="M381.6 110.3C381.8 109.8 382.6 109.3 383.0 108.9C383.4 108.6 383.9 108.5 384.2 108.1C384.4 107.7 384.1 106.8 384.5 106.5C384.8 106.3 385.5 106.7 386.0 106.6C386.4 106.4 386.8 105.8 387.2 105.7C387.6 105.7 388.0 106.2 388.5 106.3C389.0 106.5 389.4 106.4 390.0 106.4C390.6 106.5 391.6 106.4 392.1 106.8C392.6 107.1 392.7 107.8 392.9 108.4C393.1 109.0 393.4 109.7 393.3 110.3C393.2 110.9 392.6 111.4 392.3 112.0C392.0 112.5 391.9 113.0 391.5 113.4C391.1 113.7 390.4 113.8 389.9 114.0C389.5 114.3 389.1 114.7 388.7 114.9C388.2 115.1 387.7 115.4 387.2 115.4C386.7 115.3 386.4 114.5 385.9 114.4C385.3 114.3 384.3 115.1 383.8 114.9C383.4 114.7 383.3 113.8 383.0 113.3C382.7 112.9 382.2 112.5 381.9 112.0C381.7 111.5 381.4 110.8 381.6 110.3Z" fill="none" stroke="#7a7a7a" stroke-width="0.40"/>
<path d="M393.8 107.3h0.8M383.0 106.0h1.1M378.9 112.0h0.8M398.1 101.4h1.5M379.0 120.8h0.8M386.2 115.2h0.8M398.9 112.0h1.5M390.3 120.1h1.1M378.9 105.4h0.8M386.2 115.2h0.8M390.5 114.6h0.8M392.5 115.7h1.1M388.3 113.6h0.8M390.8 99.3h0.8M391.6 106.6h1.5M378.6 110.2h1.1M388.2 104.8h0.8M393.4 109.3h0.8M380.5 109.1h1.5M388.2 107.7h1.1M379.6 117.0h0.8M387.6 102.1h1.1M386.8 107.7h1.1M388.3 116.0h1.1M384.3 101.7h1.5M385.2 113.3h1.1M380.9 111.5h0.8M386.7 106.0h1.1M380.8 105.1h1.5M385.6 106.5h1.1M384.2 112.2h1.5M383.7 105.8h0.8M378.0 108.9h1.1M384.1 109.2h1.1M398.9 106.5h1.1M388.5 122.2h0.8M389.5 106.1h1.5M387.3 113.1h1.5M388.8 120.7h1.1" fill="none" stroke="#d0d0d0" stroke-width="0.70"/>
<path d="M384.8 110.3l-6.5 -4.5l-1.5 5l2 5.5l5 -1Z" fill="#050505"/>
<path d="M390.4 109.8l5.5 -2.5l1.8 3l-2.2 3.5l-4.5 -1.5Z" fill="#080808"/>
<path d="M387.2 110.3m-1.5 0a1.5 1.7 0 1 0 3 0a1.5 1.7 0 1 0 -3 0Z" fill="#f4f4f4"/>
<circle cx="418.1" cy="61.0" r="0.55" fill="#8c8c8c"/>
<circle cx="412.5" cy="66.1" r="0.65" fill="#b8b8b8"/>
<circle cx="421.7" cy="68.4" r="0.60" fill="#8c8c8c"/>
<circle cx="425.9" cy="71.3" r="0.70" fill="#a8a8a8"/>
<circle cx="413.0" cy="70.9" r="0.70" fill="#acacac"/>
<circle cx="414.5" cy="73.5" r="0.70" fill="#acacac"/>
<circle cx="409.9" cy="74.3" r="0.70" fill="#c4c4c4"/>
<circle cx="412.5" cy="75.6" r="0.60" fill="#c4c4c4"/>
<circle cx="407.3" cy="75.4" r="0.55" fill="#b4b4b4"/>
<circle cx="417.6" cy="76.1" r="0.55" fill="#b4b4b4"/>
<circle cx="417.6" cy="79.2" r="0.65" fill="#8c8c8c"/>
<circle cx="408.4" cy="79.2" r="0.65" fill="#b8b8b8"/>
<circle cx="411.5" cy="79.7" r="0.55" fill="#a8a8a8"/>
<circle cx="411.5" cy="82.8" r="0.65" fill="#a8a8a8"/>
<circle cx="416.6" cy="84.3" r="0.55" fill="#7c7c7c"/>
<circle cx="424.8" cy="81.5" r="0.55" fill="#b8b8b8"/>
<circle cx="412.0" cy="86.4" r="0.70" fill="#b4b4b4"/>
<circle cx="430.5" cy="86.9" r="0.70" fill="#b4b4b4"/>
<circle cx="413.5" cy="90.5" r="0.60" fill="#c4c4c4"/>
<circle cx="416.1" cy="93.9" r="0.65" fill="#acacac"/>
<circle cx="418.1" cy="93.1" r="0.60" fill="#9a9a9a"/>
<circle cx="402.2" cy="76.1" r="0.70" fill="#a8a8a8"/>
<circle cx="402.7" cy="79.7" r="0.55" fill="#7c7c7c"/>
<circle cx="410.4" cy="77.1" r="0.60" fill="#b4b4b4"/>
<circle cx="408.9" cy="80.7" r="0.55" fill="#b8b8b8"/>
<circle cx="415.6" cy="87.9" r="0.65" fill="#7c7c7c"/>
<circle cx="425.2" cy="71.2" r="0.55" fill="#c4c4c4"/>
<circle cx="425.2" cy="80.8" r="0.55" fill="#a8a8a8"/>
<circle cx="431.0" cy="86.5" r="0.70" fill="#c4c4c4"/>
<circle cx="369.4" cy="74.0" r="0.60" fill="#b4b4b4"/>
<circle cx="366.5" cy="80.8" r="0.70" fill="#c4c4c4"/>
<circle cx="371.3" cy="79.8" r="0.55" fill="#9a9a9a"/>
<circle cx="367.5" cy="85.6" r="0.65" fill="#a8a8a8"/>
<circle cx="373.3" cy="82.7" r="0.65" fill="#c4c4c4"/>
<circle cx="376.2" cy="83.7" r="0.60" fill="#c4c4c4"/>
<circle cx="421.3" cy="101.0" r="0.60" fill="#9a9a9a"/>
<circle cx="428.1" cy="104.8" r="0.60" fill="#c4c4c4"/>
<circle cx="426.2" cy="112.5" r="0.65" fill="#c4c4c4"/>
<circle cx="418.5" cy="107.7" r="0.60" fill="#7c7c7c"/>
<circle cx="421.3" cy="69.2" r="0.70" fill="#8c8c8c"/>
<circle cx="418.5" cy="60.6" r="0.55" fill="#8c8c8c"/>
<circle cx="421.3" cy="102.7" r="0.70" fill="#b8b8b8"/>
<circle cx="428.1" cy="104.6" r="0.65" fill="#8c8c8c"/>
<circle cx="426.2" cy="113.3" r="0.60" fill="#b8b8b8"/>
<circle cx="422.3" cy="119.0" r="0.60" fill="#7c7c7c"/>
<circle cx="414.6" cy="119.0" r="0.60" fill="#a8a8a8"/>
<circle cx="411.7" cy="123.8" r="0.55" fill="#c4c4c4"/>
<circle cx="408.8" cy="121.0" r="0.65" fill="#acacac"/>
<circle cx="376.2" cy="142.1" r="0.65" fill="#c4c4c4"/>
<circle cx="380.0" cy="144.0" r="0.65" fill="#b8b8b8"/>
<circle cx="384.8" cy="143.1" r="0.60" fill="#acacac"/>
<circle cx="389.6" cy="142.1" r="0.70" fill="#a8a8a8"/>
<circle cx="386.7" cy="145.4" r="0.65" fill="#9a9a9a"/>
<circle cx="380.0" cy="149.8" r="0.70" fill="#b8b8b8"/>
<circle cx="375.2" cy="151.2" r="0.70" fill="#8c8c8c"/>
<circle cx="401.2" cy="133.5" r="0.60" fill="#c4c4c4"/>
<path d="M405.40 31.30V200.00" stroke="#4c4c4c" stroke-width="1.2" fill="none"/><path d="M347.40 96.50H516.60" stroke="#3a3a3a" stroke-width="1.15" fill="none"/>
<rect x="347.40" y="31.30" width="169.20" height="168.70" fill="none" stroke="#1e1e1e" stroke-width="1.3"/>
<path d="M431.4 200.0v2.8M439.0 200.0v2.8M444.3 200.0v2.8M448.5 200.0v2.8M451.9 200.0v2.8M454.8 200.0v2.8M457.3 200.0v2.8M459.5 200.0v2.8M473.1 200.0v2.8M479.9 200.0v2.8M484.7 200.0v2.8M488.4 200.0v2.8M491.5 200.0v2.8M494.0 200.0v2.8M496.3 200.0v2.8M498.2 200.0v2.8M511.3 200.0v3.0M418.4 200.0v5.1M461.5 200.0v5.1M500.0 200.0v5.1M350.4 200.0v2.8M352.5 200.0v2.8M355.3 200.0v2.8M358.2 200.0v2.8M362.6 200.0v2.8M366.0 200.0v2.8M369.7 200.0v2.8M381.0 200.0v2.8M387.6 200.0v2.8M391.1 200.0v2.8M394.6 200.0v2.8M397.6 200.0v2.8M400.6 200.0v2.8M403.4 200.0v2.8M406.4 200.0v2.8M409.0 200.0v2.8M411.1 200.0v2.8M413.0 200.0v2.8M414.7 200.0v2.8M416.1 200.0v2.8M417.3 200.0v2.8M372.5 200.0v5.1M378.0 200.0v5.1M384.0 200.0v5.1M347.4 116.0h-2.8M347.4 108.4h-2.8M347.4 103.1h-2.8M347.4 98.9h-2.8M347.4 95.5h-2.8M347.4 92.6h-2.8M347.4 90.1h-2.8M347.4 87.9h-2.8M347.4 74.3h-2.8M347.4 67.5h-2.8M347.4 62.7h-2.8M347.4 59.0h-2.8M347.4 55.9h-2.8M347.4 53.4h-2.8M347.4 51.1h-2.8M347.4 49.2h-2.8M347.4 36.1h-3.0M347.4 129.0h-5.1M347.4 85.9h-5.1M347.4 47.4h-5.1M347.4 197.0h-2.8M347.4 194.9h-2.8M347.4 192.1h-2.8M347.4 189.2h-2.8M347.4 184.8h-2.8M347.4 181.4h-2.8M347.4 177.7h-2.8M347.4 166.4h-2.8M347.4 159.8h-2.8M347.4 156.3h-2.8M347.4 152.8h-2.8M347.4 149.8h-2.8M347.4 146.8h-2.8M347.4 144.0h-2.8M347.4 141.0h-2.8M347.4 138.4h-2.8M347.4 136.3h-2.8M347.4 134.4h-2.8M347.4 132.7h-2.8M347.4 131.3h-2.8M347.4 130.1h-2.8M347.4 174.9h-5.1M347.4 169.4h-5.1M347.4 163.4h-5.1" stroke="#141414" stroke-width="1.0" fill="none"/>
<rect x="372.00" y="200.00" width="6.50" height="3.1" fill="#111"/>
<rect x="344.90" y="168.90" width="2.5" height="6.50" fill="#111"/>
<g font-family='"DejaVu Sans Condensed", "DejaVu Sans", "Liberation Sans", sans-serif' font-size="8.6" font-weight="normal" fill="#111" stroke="#111" stroke-width="0.4"><text x="375.60" y="220.30" text-anchor="middle">0</text><text x="409.50" y="220.30">10<tspan dy="-6.2" dx="0.5" font-size="7.5">3</tspan></text><text x="449.50" y="220.30">10<tspan dy="-6.2" dx="0.5" font-size="7.5">4</tspan></text><text x="485.10" y="220.30">10<tspan dy="-6.2" dx="0.5" font-size="7.5">5</tspan></text><text x="333.00" y="175.00" text-anchor="middle">0</text><text x="324.50" y="133.40">10<tspan dy="-6.0" dx="0.8" font-size="7.5">3</tspan></text><text x="324.50" y="90.30">10<tspan dy="-6.0" dx="0.8" font-size="7.5">4</tspan></text><text x="324.50" y="51.80">10<tspan dy="-6.0" dx="0.8" font-size="7.5">5</tspan></text></g>
<g font-family='"Liberation Sans", Arial, Helvetica, sans-serif' font-size="16" letter-spacing="-0.32" fill="#111" stroke="#111" stroke-width="0.28"><text x="351.20" y="50.00" text-anchor="start">4.37%</text><text x="512.20" y="49.80" text-anchor="end">1.5%</text><text x="351.40" y="192.60" text-anchor="start">92.4%</text><text x="512.60" y="192.60" text-anchor="end">1.78%</text></g>
<path d="M154.5 330.8C151.3 330.3 148.7 331.0 146.0 332.6C143.3 334.2 140.4 337.6 138.5 340.5C136.6 343.4 135.3 346.8 134.4 350.0C133.5 353.2 133.0 356.3 133.1 359.6C133.2 362.9 133.7 366.9 134.8 370.0C135.9 373.1 137.5 376.4 139.5 378.5C141.5 380.6 144.4 381.9 147.0 382.8C149.6 383.7 152.3 383.8 155.0 383.6C157.7 383.4 160.8 382.5 163.0 381.4C165.2 380.3 166.8 379.3 168.3 377.0C169.8 374.7 171.2 371.3 172.0 367.5C172.8 363.7 173.2 357.9 173.1 354.0C173.0 350.1 172.5 347.3 171.2 344.2C169.9 341.1 168.2 337.8 165.4 335.6C162.6 333.4 157.7 331.3 154.5 330.8Z" fill="none" stroke="#2a2a2a" stroke-width="0.95"/>
<path d="M154.5 333.2C151.6 332.7 148.9 333.5 146.5 335.0C144.1 336.5 141.7 339.3 140.0 342.0C138.3 344.7 137.3 348.0 136.6 351.0C135.9 354.0 135.5 356.9 135.6 360.0C135.7 363.1 136.2 366.7 137.2 369.5C138.2 372.3 139.7 375.1 141.5 377.0C143.3 378.9 145.8 379.9 148.0 380.6C150.2 381.3 152.7 381.4 155.0 381.2C157.3 381.0 160.1 380.3 162.0 379.2C163.9 378.1 165.3 376.9 166.6 374.8C167.9 372.7 169.1 369.9 169.8 366.5C170.5 363.1 170.9 358.0 170.8 354.5C170.7 351.0 170.1 348.1 169.0 345.4C167.9 342.6 166.4 340.0 164.0 338.0C161.6 336.0 157.4 333.7 154.5 333.2Z" fill="none" stroke="#2a2a2a" stroke-width="0.90"/>
<path d="M136.7 359.4C136.6 357.7 136.7 356.0 137.0 354.3C137.2 352.5 137.6 350.7 138.3 348.9C139.0 347.0 139.8 345.0 141.0 343.2C142.3 341.4 143.9 339.2 145.8 337.9C147.8 336.6 150.5 335.6 152.8 335.6C155.1 335.5 157.8 336.5 159.9 337.7C161.9 338.9 163.7 340.8 165.0 342.5C166.4 344.3 167.3 346.4 168.0 348.3C168.7 350.3 169.0 352.2 169.3 354.0C169.6 355.9 169.8 357.6 169.7 359.4C169.7 361.2 169.4 362.9 168.9 364.6C168.5 366.4 168.0 368.2 167.2 369.8C166.3 371.5 165.2 373.3 163.9 374.6C162.5 376.0 160.7 377.2 158.8 377.9C157.0 378.7 154.8 379.1 152.8 379.0C150.8 379.0 148.6 378.5 146.8 377.8C145.0 377.0 143.3 375.7 141.9 374.4C140.6 373.0 139.6 371.2 138.8 369.6C138.0 367.9 137.4 366.2 137.1 364.5C136.7 362.8 136.7 361.1 136.7 359.4Z" fill="none" stroke="#262626" stroke-width="0.85"/>
<path d="M138.9 359.4C138.9 357.9 139.0 356.5 139.3 355.0C139.6 353.5 140.0 352.0 140.6 350.5C141.2 349.0 142.0 347.4 143.1 346.0C144.2 344.6 145.6 343.1 147.2 342.2C148.8 341.3 150.9 340.6 152.8 340.5C154.7 340.5 156.8 341.2 158.4 342.1C160.1 343.0 161.5 344.5 162.7 345.8C163.8 347.2 164.6 348.8 165.3 350.3C166.0 351.8 166.4 353.4 166.7 354.9C167.0 356.4 167.2 357.9 167.1 359.4C167.1 360.9 167.0 362.4 166.6 363.9C166.2 365.3 165.6 366.8 164.8 368.1C164.0 369.4 163.0 370.7 161.8 371.8C160.6 372.8 159.2 373.8 157.7 374.4C156.2 375.0 154.4 375.4 152.8 375.3C151.2 375.3 149.4 375.0 147.9 374.3C146.5 373.7 145.1 372.7 143.9 371.6C142.8 370.6 141.8 369.2 141.1 367.9C140.3 366.6 139.8 365.2 139.4 363.7C139.1 362.3 138.9 360.9 138.9 359.4Z" fill="#ababab"/>
<path d="M140.4 359.4C140.4 358.1 140.5 356.8 140.8 355.5C141.1 354.2 141.5 352.9 142.1 351.7C142.8 350.4 143.6 349.1 144.6 348.1C145.6 347.0 146.8 345.9 148.2 345.3C149.6 344.6 151.3 344.2 152.8 344.1C154.3 344.1 156.0 344.6 157.4 345.2C158.8 345.8 160.1 346.9 161.2 347.9C162.2 348.9 163.1 350.2 163.7 351.5C164.4 352.7 164.9 354.0 165.2 355.4C165.5 356.7 165.7 358.1 165.7 359.4C165.7 360.7 165.5 362.1 165.1 363.4C164.8 364.7 164.2 366.0 163.5 367.2C162.7 368.3 161.8 369.4 160.7 370.3C159.6 371.2 158.4 372.0 157.0 372.5C155.7 372.9 154.2 373.2 152.8 373.2C151.4 373.2 149.9 372.9 148.6 372.4C147.3 371.9 146.0 371.1 145.0 370.1C144.0 369.2 143.1 368.1 142.4 367.0C141.7 365.8 141.2 364.5 140.9 363.3C140.5 362.0 140.4 360.7 140.4 359.4Z" fill="#666"/>
<path d="M137.5 359.4C137.6 357.8 137.9 356.3 138.2 354.7C138.5 353.0 138.8 351.4 139.4 349.6C140.0 347.9 140.6 345.8 141.7 344.1C142.9 342.5 144.5 340.6 146.3 339.5C148.2 338.4 150.6 337.5 152.8 337.5C155.0 337.5 157.4 338.5 159.3 339.5C161.2 340.6 162.9 342.2 164.1 343.8C165.3 345.5 165.9 347.6 166.6 349.4C167.2 351.2 167.8 352.8 168.0 354.4C168.3 356.1 168.4 357.8 168.3 359.4C168.3 361.0 168.1 362.6 167.8 364.3C167.4 365.9 166.9 367.6 166.1 369.1C165.3 370.6 164.3 372.2 162.9 373.3C161.6 374.5 159.9 375.4 158.2 376.0C156.5 376.6 154.6 377.0 152.8 377.0C151.0 377.0 149.0 376.9 147.4 376.2C145.7 375.5 144.3 374.1 143.1 372.8C141.8 371.6 141.0 370.0 140.1 368.6C139.3 367.2 138.4 365.8 137.9 364.2C137.5 362.7 137.5 361.0 137.5 359.4Z" fill="none" stroke="#0c0c0c" stroke-width="0.85"/>
<path d="M138.9 359.4C138.9 357.9 138.8 356.4 139.1 354.9C139.3 353.4 139.8 352.0 140.4 350.4C141.0 348.8 141.5 346.9 142.6 345.4C143.7 343.8 145.2 342.2 146.9 341.2C148.6 340.2 150.8 339.5 152.8 339.5C154.8 339.5 156.9 340.4 158.7 341.4C160.4 342.4 161.9 343.9 163.0 345.3C164.2 346.8 164.9 348.6 165.6 350.1C166.2 351.7 166.7 353.3 166.9 354.8C167.1 356.4 166.9 357.9 166.8 359.4C166.8 360.9 166.9 362.4 166.6 363.9C166.2 365.3 165.6 366.8 164.8 368.1C164.0 369.4 163.1 370.9 161.9 371.9C160.7 373.0 159.2 373.9 157.7 374.5C156.2 375.1 154.4 375.5 152.8 375.5C151.2 375.6 149.4 375.2 147.9 374.6C146.3 374.0 144.8 373.1 143.6 372.0C142.5 370.9 141.9 369.2 141.2 367.8C140.5 366.5 139.8 365.2 139.4 363.8C139.0 362.3 139.0 360.9 138.9 359.4Z" fill="none" stroke="#0c0c0c" stroke-width="0.85"/>
<path d="M140.0 359.4C139.9 358.1 140.0 356.7 140.2 355.3C140.5 354.0 141.1 352.7 141.7 351.3C142.3 349.9 142.9 348.5 143.8 347.0C144.7 345.6 145.9 343.7 147.4 342.6C148.9 341.6 151.0 340.8 152.8 340.9C154.6 340.9 156.7 341.8 158.2 342.8C159.7 343.8 160.8 345.5 161.9 346.9C163.0 348.2 163.9 349.5 164.5 350.9C165.1 352.3 165.1 353.9 165.3 355.3C165.6 356.7 166.0 358.0 166.0 359.4C166.0 360.8 165.7 362.1 165.3 363.5C165.0 364.8 164.6 366.3 163.9 367.4C163.1 368.6 162.0 369.6 160.9 370.6C159.8 371.6 158.7 372.8 157.3 373.4C156.0 374.0 154.3 374.0 152.8 374.0C151.3 373.9 149.7 373.7 148.3 373.1C147.0 372.6 145.6 371.8 144.5 370.8C143.4 369.8 142.5 368.5 141.9 367.3C141.3 366.0 141.2 364.6 140.8 363.3C140.5 362.0 140.1 360.7 140.0 359.4Z" fill="none" stroke="#0c0c0c" stroke-width="0.85"/>
<path d="M141.7 359.4C141.7 358.2 141.7 357.1 141.8 355.8C142.0 354.6 142.2 353.3 142.7 352.1C143.2 350.8 143.8 349.4 144.7 348.2C145.5 347.0 146.7 345.6 148.1 344.8C149.4 344.0 151.2 343.3 152.8 343.2C154.4 343.1 156.3 343.6 157.7 344.4C159.1 345.2 160.4 346.5 161.2 347.8C162.1 349.1 162.4 350.7 162.9 352.1C163.4 353.4 163.9 354.5 164.1 355.7C164.4 356.9 164.6 358.2 164.6 359.4C164.5 360.6 164.0 361.7 163.7 362.9C163.4 364.1 163.4 365.5 162.7 366.6C162.1 367.7 161.0 368.5 160.1 369.4C159.1 370.3 158.1 371.3 156.8 371.9C155.6 372.4 154.1 372.7 152.8 372.7C151.5 372.7 150.0 372.4 148.8 371.8C147.5 371.3 146.5 370.3 145.5 369.4C144.6 368.5 143.9 367.4 143.2 366.3C142.6 365.3 142.1 364.1 141.9 363.0C141.6 361.8 141.7 360.6 141.7 359.4Z" fill="none" stroke="#0c0c0c" stroke-width="0.85"/>
<path d="M142.8 359.4C142.8 358.4 142.8 357.3 143.0 356.2C143.1 355.1 143.5 354.0 143.9 352.9C144.3 351.8 144.8 350.5 145.6 349.5C146.4 348.4 147.4 347.3 148.6 346.6C149.8 345.8 151.4 344.9 152.8 344.9C154.2 344.8 155.9 345.5 157.1 346.2C158.3 347.0 159.2 348.3 160.1 349.4C160.9 350.5 161.6 351.6 162.1 352.7C162.5 353.8 162.8 355.0 163.0 356.1C163.1 357.2 163.1 358.3 163.0 359.4C163.0 360.5 162.8 361.5 162.5 362.5C162.2 363.6 162.0 364.7 161.4 365.7C160.9 366.6 160.1 367.5 159.2 368.2C158.4 369.0 157.4 369.7 156.3 370.2C155.2 370.6 154.0 371.1 152.8 371.1C151.6 371.1 150.4 370.6 149.3 370.1C148.2 369.6 147.2 369.0 146.3 368.3C145.5 367.5 144.8 366.6 144.3 365.6C143.8 364.6 143.7 363.5 143.4 362.4C143.2 361.4 142.9 360.4 142.8 359.4Z" fill="none" stroke="#0c0c0c" stroke-width="0.85"/>
<path d="M144.0 359.4C144.0 358.5 144.4 357.7 144.5 356.7C144.7 355.8 144.6 354.7 144.9 353.7C145.2 352.6 145.7 351.5 146.4 350.6C147.1 349.6 148.0 348.6 149.1 348.0C150.2 347.4 151.6 347.1 152.8 347.1C154.0 347.1 155.5 347.4 156.5 348.0C157.6 348.5 158.4 349.7 159.1 350.7C159.9 351.6 160.6 352.5 161.0 353.5C161.3 354.5 161.1 355.7 161.3 356.6C161.5 357.6 161.9 358.5 161.9 359.4C162.0 360.3 161.9 361.4 161.7 362.3C161.4 363.2 161.0 364.1 160.4 365.0C159.9 365.8 159.4 366.8 158.6 367.4C157.8 368.0 156.8 368.4 155.8 368.8C154.9 369.2 153.8 369.9 152.8 369.9C151.8 369.9 150.7 369.3 149.7 368.9C148.7 368.5 147.8 368.0 147.0 367.4C146.3 366.7 145.6 365.8 145.2 364.9C144.8 364.0 144.8 363.0 144.6 362.1C144.4 361.1 144.0 360.3 144.0 359.4Z" fill="none" stroke="#0c0c0c" stroke-width="0.85"/>
<path d="M141.0 359.4C141.0 358.2 140.9 356.8 141.3 355.7C141.7 354.5 142.8 353.7 143.5 352.6C144.2 351.6 144.7 350.4 145.6 349.5C146.5 348.5 147.6 347.4 148.8 347.0C150.0 346.5 151.4 346.8 152.8 346.7C154.2 346.7 155.7 346.3 156.9 346.8C158.1 347.2 159.1 348.5 160.1 349.4C161.1 350.2 162.4 350.9 163.0 352.0C163.7 353.0 163.7 354.5 164.0 355.8C164.3 357.0 164.7 358.2 164.8 359.4C164.9 360.6 165.1 362.1 164.7 363.3C164.3 364.4 163.2 365.4 162.4 366.4C161.6 367.4 160.9 368.4 159.9 369.2C158.9 370.0 157.8 370.8 156.6 371.2C155.5 371.7 154.1 371.8 152.8 371.7C151.5 371.6 150.3 371.2 149.1 370.7C148.0 370.3 146.8 369.7 145.9 369.0C144.9 368.2 144.3 367.1 143.5 366.1C142.8 365.2 141.8 364.2 141.4 363.1C140.9 362.0 141.0 360.6 141.0 359.4Z" fill="#262626"/>
<path d="M143.3 359.4C143.3 358.4 143.1 357.2 143.4 356.4C143.8 355.5 144.9 354.9 145.4 354.0C146.0 353.2 146.0 351.7 146.7 351.0C147.5 350.4 148.8 350.5 149.8 350.2C150.8 349.8 151.8 349.1 152.8 349.0C153.8 348.8 155.1 349.0 156.0 349.4C157.0 349.8 157.8 350.7 158.6 351.4C159.5 352.0 160.6 352.5 161.2 353.3C161.8 354.1 161.8 355.4 162.1 356.4C162.3 357.4 162.4 358.4 162.5 359.4C162.6 360.4 162.9 361.6 162.5 362.5C162.1 363.4 160.8 363.9 160.2 364.8C159.6 365.7 159.7 367.2 159.0 367.9C158.3 368.6 157.0 368.8 155.9 369.0C154.9 369.3 153.9 369.2 152.8 369.3C151.7 369.3 150.5 369.6 149.6 369.2C148.7 368.8 148.1 367.6 147.3 367.0C146.5 366.3 145.2 366.1 144.6 365.4C144.0 364.6 144.1 363.3 143.9 362.3C143.7 361.3 143.4 360.4 143.3 359.4Z" fill="none" stroke="#7a7a7a" stroke-width="0.40"/>
<path d="M146.3 359.4C146.4 358.7 145.9 357.9 146.0 357.2C146.2 356.5 146.8 355.9 147.3 355.4C147.7 354.8 148.3 354.5 148.8 353.9C149.4 353.4 149.7 352.2 150.4 352.0C151.1 351.8 152.0 352.5 152.8 352.5C153.6 352.5 154.6 351.7 155.2 351.9C155.9 352.1 156.3 353.2 156.9 353.8C157.5 354.3 158.2 354.5 158.7 355.1C159.3 355.6 159.9 356.3 160.1 357.0C160.3 357.7 160.0 358.6 159.9 359.4C159.8 360.2 159.9 361.0 159.7 361.6C159.4 362.3 158.8 362.9 158.3 363.4C157.8 363.9 157.2 364.2 156.6 364.6C156.0 365.0 155.5 365.4 154.8 365.6C154.2 365.9 153.5 366.0 152.8 366.2C152.1 366.3 151.2 366.6 150.5 366.4C149.8 366.2 149.3 365.5 148.7 365.0C148.2 364.5 147.7 364.0 147.2 363.4C146.8 362.9 146.0 362.3 145.9 361.6C145.7 361.0 146.3 360.1 146.3 359.4Z" fill="none" stroke="#7a7a7a" stroke-width="0.40"/>
<path d="M149.2 359.4C149.3 359.0 149.2 358.7 149.2 358.2C149.2 357.8 148.9 357.1 149.1 356.7C149.4 356.4 150.2 356.5 150.6 356.3C151.0 356.1 151.2 355.9 151.6 355.7C152.0 355.4 152.4 354.9 152.8 354.9C153.2 354.9 153.6 355.3 154.1 355.5C154.5 355.7 155.0 355.6 155.4 355.9C155.7 356.1 155.8 356.7 156.1 357.0C156.4 357.4 156.9 357.6 157.0 358.0C157.2 358.4 157.3 359.0 157.2 359.4C157.2 359.8 156.7 360.2 156.5 360.6C156.4 361.1 156.7 361.7 156.5 362.1C156.3 362.5 155.8 362.8 155.4 363.0C155.0 363.1 154.5 362.9 154.0 363.2C153.6 363.4 153.2 364.5 152.8 364.5C152.4 364.5 151.9 363.6 151.5 363.3C151.2 363.0 150.8 362.8 150.5 362.5C150.2 362.2 150.1 361.9 149.8 361.6C149.5 361.3 148.8 361.1 148.6 360.7C148.5 360.4 149.1 359.8 149.2 359.4Z" fill="none" stroke="#7a7a7a" stroke-width="0.40"/>
<path d="M146.2 366.3h1.1M148.5 370.0h0.8M157.5 365.5h1.1M159.2 363.7h1.5M144.8 362.7h0.8M151.5 357.3h0.8M158.8 360.6h0.8M146.9 350.2h0.8M145.8 358.9h0.8M150.1 356.0h1.5M158.1 366.0h1.1M151.2 363.2h1.1M145.6 356.4h1.5M150.9 368.3h0.8M157.4 354.8h1.1M145.6 355.4h0.8M152.3 355.8h0.8M155.0 362.2h1.5M143.4 364.2h1.1M154.0 364.2h1.5M156.6 367.4h1.5M148.0 360.3h0.8M146.8 355.9h0.8M153.1 354.5h1.5M151.6 355.5h1.1M150.5 353.5h1.5M152.0 348.0h1.5M143.0 364.6h1.5M162.6 357.5h1.5M150.3 359.3h1.5M151.7 348.2h0.8M158.9 354.4h1.5M149.7 361.3h0.8M146.7 354.2h0.8M155.0 356.2h0.8M149.3 358.7h1.5" fill="none" stroke="#d0d0d0" stroke-width="0.70"/>
<path d="M150.4 359.4l-6.5 -4.5l-1.5 5l2 5.5l5 -1Z" fill="#050505"/>
<path d="M156.0 358.9l5.5 -2.5l1.8 3l-2.2 3.5l-4.5 -1.5Z" fill="#080808"/>
<path d="M152.8 359.4m-1.5 0a1.5 1.7 0 1 0 3 0a1.5 1.7 0 1 0 -3 0Z" fill="#f4f4f4"/>
<circle cx="161.3" cy="302.1" r="0.55" fill="#8c8c8c"/>
<circle cx="168.1" cy="307.9" r="0.65" fill="#acacac"/>
<circle cx="159.4" cy="310.8" r="0.55" fill="#acacac"/>
<circle cx="167.1" cy="314.6" r="0.55" fill="#b4b4b4"/>
<circle cx="171.9" cy="314.6" r="0.55" fill="#b8b8b8"/>
<circle cx="174.8" cy="315.6" r="0.55" fill="#acacac"/>
<circle cx="145.0" cy="319.4" r="0.70" fill="#a8a8a8"/>
<circle cx="149.8" cy="317.5" r="0.60" fill="#b8b8b8"/>
<circle cx="157.5" cy="317.5" r="0.70" fill="#c4c4c4"/>
<circle cx="160.4" cy="320.4" r="0.65" fill="#c4c4c4"/>
<circle cx="165.2" cy="320.4" r="0.65" fill="#8c8c8c"/>
<circle cx="171.0" cy="318.5" r="0.70" fill="#7c7c7c"/>
<circle cx="143.1" cy="323.3" r="0.55" fill="#7c7c7c"/>
<circle cx="153.7" cy="323.3" r="0.70" fill="#8c8c8c"/>
<circle cx="159.4" cy="324.2" r="0.65" fill="#8c8c8c"/>
<circle cx="168.1" cy="324.2" r="0.60" fill="#8c8c8c"/>
<circle cx="172.9" cy="325.2" r="0.65" fill="#8c8c8c"/>
<circle cx="189.2" cy="292.5" r="0.60" fill="#b8b8b8"/>
<circle cx="182.5" cy="300.8" r="0.55" fill="#b8b8b8"/>
<circle cx="195.0" cy="311.7" r="0.70" fill="#b8b8b8"/>
<circle cx="196.9" cy="318.5" r="0.70" fill="#9a9a9a"/>
<circle cx="202.7" cy="329.6" r="0.65" fill="#7c7c7c"/>
<circle cx="206.5" cy="336.7" r="0.65" fill="#9a9a9a"/>
<circle cx="132.5" cy="331.9" r="0.70" fill="#9a9a9a"/>
<circle cx="138.3" cy="330.4" r="0.55" fill="#acacac"/>
<circle cx="134.4" cy="337.7" r="0.55" fill="#7c7c7c"/>
<circle cx="164.2" cy="330.4" r="0.55" fill="#a8a8a8"/>
<circle cx="167.1" cy="332.9" r="0.55" fill="#b4b4b4"/>
<circle cx="170.4" cy="335.8" r="0.65" fill="#8c8c8c"/>
<circle cx="172.9" cy="338.7" r="0.70" fill="#c4c4c4"/>
<circle cx="169.0" cy="329.0" r="0.60" fill="#7c7c7c"/>
<circle cx="174.8" cy="341.5" r="0.60" fill="#acacac"/>
<circle cx="180.8" cy="352.9" r="0.55" fill="#9a9a9a"/>
<circle cx="182.7" cy="356.7" r="0.60" fill="#c4c4c4"/>
<circle cx="179.8" cy="360.6" r="0.65" fill="#b4b4b4"/>
<circle cx="184.6" cy="359.6" r="0.65" fill="#c4c4c4"/>
<circle cx="188.5" cy="355.8" r="0.65" fill="#b8b8b8"/>
<circle cx="191.3" cy="360.6" r="0.60" fill="#acacac"/>
<circle cx="182.7" cy="365.4" r="0.65" fill="#c4c4c4"/>
<circle cx="186.5" cy="363.5" r="0.60" fill="#7c7c7c"/>
<circle cx="189.4" cy="366.3" r="0.65" fill="#9a9a9a"/>
<circle cx="180.8" cy="370.2" r="0.60" fill="#a8a8a8"/>
<circle cx="184.6" cy="373.1" r="0.65" fill="#b8b8b8"/>
<circle cx="196.2" cy="370.2" r="0.60" fill="#8c8c8c"/>
<circle cx="200.0" cy="353.8" r="0.60" fill="#8c8c8c"/>
<circle cx="198.1" cy="359.6" r="0.65" fill="#b8b8b8"/>
<circle cx="201.9" cy="362.5" r="0.65" fill="#b4b4b4"/>
<circle cx="205.8" cy="336.5" r="0.55" fill="#acacac"/>
<circle cx="202.9" cy="329.8" r="0.70" fill="#c4c4c4"/>
<circle cx="207.7" cy="370.2" r="0.70" fill="#c4c4c4"/>
<circle cx="212.5" cy="374.0" r="0.65" fill="#7c7c7c"/>
<circle cx="218.3" cy="373.1" r="0.65" fill="#b8b8b8"/>
<circle cx="182.7" cy="376.9" r="0.55" fill="#b4b4b4"/>
<circle cx="186.5" cy="376.0" r="0.70" fill="#b4b4b4"/>
<circle cx="197.1" cy="376.9" r="0.60" fill="#7c7c7c"/>
<circle cx="191.3" cy="344.2" r="0.70" fill="#8c8c8c"/>
<circle cx="183.7" cy="345.2" r="0.55" fill="#c4c4c4"/>
<circle cx="175.0" cy="342.3" r="0.70" fill="#9a9a9a"/>
<circle cx="174.0" cy="350.0" r="0.65" fill="#9a9a9a"/>
<circle cx="176.0" cy="354.8" r="0.70" fill="#b4b4b4"/>
<circle cx="173.1" cy="359.6" r="0.60" fill="#c4c4c4"/>
<circle cx="175.4" cy="366.3" r="0.55" fill="#a8a8a8"/>
<circle cx="174.6" cy="373.1" r="0.55" fill="#c4c4c4"/>
<circle cx="171.2" cy="336.5" r="0.60" fill="#acacac"/>
<circle cx="170.2" cy="331.7" r="0.65" fill="#b8b8b8"/>
<circle cx="166.3" cy="328.8" r="0.70" fill="#acacac"/>
<circle cx="169.2" cy="380.8" r="0.70" fill="#acacac"/>
<circle cx="172.1" cy="384.6" r="0.65" fill="#acacac"/>
<circle cx="168.3" cy="388.5" r="0.70" fill="#c4c4c4"/>
<path d="M178.00 227.40V396.30" stroke="#4c4c4c" stroke-width="1.2" fill="none"/><path d="M117.50 327.30H286.30" stroke="#3a3a3a" stroke-width="1.15" fill="none"/>
<rect x="117.50" y="227.40" width="168.80" height="168.90" fill="none" stroke="#1e1e1e" stroke-width="1.3"/>
<path d="M201.5 396.3v2.8M209.1 396.3v2.8M214.4 396.3v2.8M218.6 396.3v2.8M222.0 396.3v2.8M224.9 396.3v2.8M227.4 396.3v2.8M229.6 396.3v2.8M243.2 396.3v2.8M250.0 396.3v2.8M254.8 396.3v2.8M258.5 396.3v2.8M261.6 396.3v2.8M264.1 396.3v2.8M266.4 396.3v2.8M268.3 396.3v2.8M281.4 396.3v3.0M188.5 396.3v5.1M231.6 396.3v5.1M270.1 396.3v5.1M120.5 396.3v2.8M122.6 396.3v2.8M125.4 396.3v2.8M128.3 396.3v2.8M132.7 396.3v2.8M136.1 396.3v2.8M139.8 396.3v2.8M151.1 396.3v2.8M157.7 396.3v2.8M161.2 396.3v2.8M164.7 396.3v2.8M167.7 396.3v2.8M170.7 396.3v2.8M173.5 396.3v2.8M176.5 396.3v2.8M179.1 396.3v2.8M181.2 396.3v2.8M183.1 396.3v2.8M184.8 396.3v2.8M186.2 396.3v2.8M187.4 396.3v2.8M142.6 396.3v5.1M148.1 396.3v5.1M154.1 396.3v5.1M117.5 304.0h-2.8M117.5 297.3h-2.8M117.5 292.5h-2.8M117.5 288.8h-2.8M117.5 285.8h-2.8M117.5 283.2h-2.8M117.5 281.0h-2.8M117.5 279.0h-2.8M117.5 267.1h-2.8M117.5 261.1h-2.8M117.5 256.8h-2.8M117.5 253.5h-2.8M117.5 250.8h-2.8M117.5 248.6h-2.8M117.5 246.6h-2.8M117.5 244.9h-2.8M117.5 232.0h-3.0M117.5 315.5h-5.1M117.5 277.3h-5.1M117.5 243.3h-5.1M117.5 385.6h-2.8M117.5 383.2h-2.8M117.5 380.7h-2.8M117.5 378.1h-2.8M117.5 375.0h-2.8M117.5 371.9h-2.8M117.5 367.3h-2.8M117.5 362.7h-2.8M117.5 340.5h-2.8M117.5 336.3h-2.8M117.5 332.4h-2.8M117.5 328.6h-2.8M117.5 325.0h-2.8M117.5 321.9h-2.8M117.5 319.4h-2.8M117.5 317.3h-2.8M117.5 357.5h-5.1M117.5 352.0h-5.1M117.5 346.5h-5.1M117.5 388.3h-5.1" stroke="#141414" stroke-width="1.0" fill="none"/>
<rect x="142.10" y="396.30" width="6.50" height="3.1" fill="#111"/>
<rect x="115.00" y="351.50" width="2.5" height="6.50" fill="#111"/>
<g font-family='"DejaVu Sans Condensed", "DejaVu Sans", "Liberation Sans", sans-serif' font-size="8.6" font-weight="normal" fill="#111" stroke="#111" stroke-width="0.4"><text x="145.70" y="416.60" text-anchor="middle">0</text><text x="179.60" y="416.60">10<tspan dy="-6.2" dx="0.5" font-size="7.5">3</tspan></text><text x="219.60" y="416.60">10<tspan dy="-6.2" dx="0.5" font-size="7.5">4</tspan></text><text x="255.20" y="416.60">10<tspan dy="-6.2" dx="0.5" font-size="7.5">5</tspan></text><text x="103.10" y="356.10" text-anchor="middle">0</text><text x="94.60" y="319.90">10<tspan dy="-6.0" dx="0.8" font-size="7.5">3</tspan></text><text x="94.60" y="281.70">10<tspan dy="-6.0" dx="0.8" font-size="7.5">4</tspan></text><text x="94.60" y="247.70">10<tspan dy="-6.0" dx="0.8" font-size="7.5">5</tspan></text></g>
<g font-family='"Liberation Sans", Arial, Helvetica, sans-serif' font-size="16" letter-spacing="-0.32" fill="#111" stroke="#111" stroke-width="0.28"><text x="122.40" y="245.80" text-anchor="start">0.39%</text><text x="282.20" y="245.80" text-anchor="end">0.08%</text><text x="122.40" y="388.30" text-anchor="start">98.9%</text><text x="282.60" y="388.30" text-anchor="end">0.64%</text></g>
<path d="M383.8 290.0C380.6 290.2 377.1 290.2 374.2 291.5C371.3 292.8 368.4 295.1 366.5 297.7C364.6 300.3 363.2 303.8 363.1 307.3C363.0 310.8 363.8 315.5 365.6 318.8C367.5 322.1 371.2 325.1 374.2 326.9C377.2 328.7 380.6 329.3 383.8 329.4C387.0 329.5 390.4 329.1 393.5 327.5C396.6 325.9 400.1 322.9 402.1 319.8C404.1 316.8 405.0 312.6 405.4 309.2C405.8 305.8 405.5 302.3 404.6 299.6C403.7 296.9 402.1 294.4 400.2 292.9C398.3 291.4 396.2 290.9 393.5 290.4C390.8 289.9 387.0 289.8 383.8 290.0Z" fill="none" stroke="#2a2a2a" stroke-width="0.95"/>
<path d="M383.8 291.6C380.8 291.8 377.6 292.0 375.0 293.2C372.4 294.4 369.7 296.4 368.0 298.8C366.3 301.2 365.1 304.3 365.0 307.5C364.9 310.7 365.6 315.1 367.3 318.0C369.0 320.9 372.2 323.5 375.0 325.0C377.8 326.5 380.8 326.9 383.8 327.0C386.8 327.1 390.1 326.7 392.8 325.3C395.6 323.9 398.6 321.3 400.3 318.6C402.0 315.9 402.8 312.0 403.1 309.0C403.5 306.0 403.1 302.8 402.4 300.4C401.6 298.0 400.2 295.8 398.6 294.4C397.0 293.0 395.3 292.5 392.8 292.0C390.3 291.5 386.8 291.4 383.8 291.6Z" fill="none" stroke="#2a2a2a" stroke-width="0.90"/>
<path d="M366.5 307.7C366.6 306.0 367.0 304.3 367.6 302.7C368.3 301.2 369.3 299.8 370.4 298.6C371.5 297.5 372.9 296.5 374.2 295.8C375.6 295.0 377.1 294.5 378.5 294.1C379.9 293.8 381.4 293.8 382.9 293.7C384.4 293.6 385.9 293.5 387.5 293.6C389.0 293.8 390.7 294.1 392.3 294.7C394.0 295.3 395.8 296.1 397.2 297.3C398.6 298.5 399.8 300.2 400.6 302.0C401.3 303.7 401.7 305.8 401.7 307.7C401.7 309.6 401.3 311.7 400.7 313.5C400.0 315.3 399.0 317.1 397.8 318.5C396.6 320.0 395.1 321.3 393.5 322.2C391.9 323.2 390.1 323.9 388.3 324.3C386.5 324.8 384.7 324.9 382.9 324.8C381.1 324.8 379.3 324.5 377.6 323.9C376.0 323.3 374.3 322.5 372.9 321.4C371.6 320.3 370.3 319.0 369.3 317.6C368.3 316.2 367.6 314.5 367.1 312.8C366.6 311.2 366.4 309.4 366.5 307.7Z" fill="none" stroke="#262626" stroke-width="0.85"/>
<path d="M368.7 307.7C368.7 306.2 369.1 304.7 369.7 303.4C370.3 302.1 371.3 300.9 372.3 300.0C373.3 299.0 374.5 298.3 375.7 297.7C376.8 297.1 378.1 296.8 379.3 296.5C380.5 296.2 381.7 296.1 382.9 296.1C384.1 296.1 385.3 296.2 386.6 296.4C387.8 296.6 389.1 296.9 390.4 297.4C391.7 297.9 393.1 298.5 394.3 299.4C395.5 300.3 396.9 301.5 397.7 302.9C398.5 304.3 399.1 306.1 399.2 307.7C399.3 309.3 398.8 311.1 398.2 312.7C397.6 314.2 396.7 315.7 395.6 316.9C394.6 318.2 393.2 319.2 391.9 320.1C390.5 320.9 389.0 321.5 387.5 321.9C386.0 322.4 384.4 322.6 382.9 322.6C381.4 322.5 379.8 322.3 378.3 321.8C376.9 321.3 375.5 320.5 374.3 319.5C373.1 318.6 372.1 317.4 371.2 316.2C370.4 314.9 369.7 313.5 369.3 312.1C368.9 310.7 368.6 309.2 368.7 307.7Z" fill="#ababab"/>
<path d="M369.4 307.7C369.5 306.3 369.8 304.9 370.3 303.6C370.9 302.4 371.8 301.2 372.7 300.3C373.7 299.4 374.8 298.7 375.9 298.1C377.0 297.5 378.2 297.1 379.4 296.9C380.5 296.6 381.7 296.5 382.9 296.5C384.1 296.5 385.2 296.6 386.4 296.8C387.6 297.0 388.9 297.3 390.1 297.8C391.3 298.3 392.6 299.0 393.7 299.9C394.8 300.7 396.0 301.9 396.7 303.2C397.5 304.5 397.9 306.2 398.0 307.7C398.1 309.2 397.7 310.9 397.2 312.4C396.7 313.8 395.9 315.3 395.0 316.5C394.1 317.7 392.9 318.8 391.6 319.7C390.4 320.6 388.9 321.3 387.5 321.7C386.0 322.2 384.4 322.4 382.9 322.4C381.4 322.4 379.8 322.1 378.4 321.6C377.0 321.0 375.7 320.2 374.5 319.2C373.4 318.3 372.5 317.1 371.7 315.8C370.9 314.6 370.4 313.3 370.0 311.9C369.6 310.5 369.4 309.1 369.4 307.7Z" fill="#666"/>
<path d="M368.2 307.7C368.2 306.2 368.4 304.5 369.0 303.2C369.6 301.9 370.9 300.7 371.9 299.7C373.0 298.7 374.1 297.8 375.3 297.3C376.5 296.7 378.0 296.7 379.2 296.4C380.5 296.1 381.7 295.5 382.9 295.5C384.1 295.5 385.4 295.9 386.6 296.2C387.9 296.5 389.1 296.8 390.5 297.3C391.8 297.8 393.3 298.2 394.7 299.1C396.0 300.0 397.6 301.2 398.5 302.6C399.4 304.1 399.8 306.0 399.9 307.7C400.0 309.4 399.7 311.3 399.1 312.9C398.4 314.5 397.3 316.0 396.1 317.3C395.0 318.6 393.6 319.7 392.2 320.5C390.8 321.3 389.1 321.7 387.6 322.1C386.0 322.4 384.4 322.6 382.9 322.6C381.4 322.5 379.8 322.2 378.3 321.8C376.8 321.4 375.3 320.8 374.0 319.9C372.7 319.1 371.5 317.9 370.6 316.6C369.7 315.4 369.1 313.8 368.7 312.3C368.3 310.8 368.1 309.2 368.2 307.7Z" fill="none" stroke="#0c0c0c" stroke-width="0.85"/>
<path d="M369.8 307.7C369.8 306.4 369.9 304.8 370.4 303.6C371.0 302.5 372.2 301.4 373.1 300.6C374.1 299.8 375.3 299.2 376.3 298.7C377.4 298.2 378.5 297.9 379.6 297.7C380.7 297.4 381.8 297.0 382.9 296.9C384.0 296.9 385.2 297.0 386.3 297.2C387.5 297.4 388.6 297.7 389.8 298.2C391.0 298.6 392.3 299.2 393.5 300.0C394.7 300.8 396.1 301.9 396.9 303.2C397.6 304.4 398.0 306.1 398.1 307.7C398.3 309.3 398.2 311.1 397.6 312.5C397.0 313.9 395.7 315.1 394.6 316.2C393.6 317.3 392.4 318.3 391.2 319.1C389.9 319.8 388.5 320.4 387.1 320.7C385.8 321.1 384.3 321.3 382.9 321.3C381.5 321.2 380.1 320.9 378.8 320.4C377.5 319.9 376.2 319.2 375.1 318.4C374.0 317.6 372.9 316.6 372.1 315.5C371.3 314.4 370.9 313.0 370.5 311.7C370.1 310.4 369.8 309.0 369.8 307.7Z" fill="none" stroke="#0c0c0c" stroke-width="0.85"/>
<path d="M371.1 307.7C371.2 306.5 371.7 305.3 372.2 304.2C372.7 303.2 373.3 302.1 374.1 301.3C374.9 300.6 376.2 300.2 377.1 299.8C378.1 299.3 379.0 299.0 380.0 298.8C381.0 298.6 381.9 298.6 382.9 298.5C383.9 298.5 384.8 298.5 385.8 298.7C386.8 298.8 387.8 299.1 388.8 299.5C389.9 299.9 390.9 300.4 392.0 301.1C393.0 301.8 394.5 302.6 395.3 303.7C396.0 304.8 396.3 306.4 396.3 307.7C396.3 309.0 395.9 310.5 395.4 311.8C394.9 313.0 394.1 314.2 393.2 315.2C392.3 316.1 391.2 317.0 390.1 317.6C389.0 318.2 387.8 318.6 386.6 318.9C385.4 319.3 384.1 319.5 382.9 319.5C381.7 319.5 380.4 319.3 379.3 318.9C378.1 318.5 377.1 317.8 376.1 317.1C375.1 316.4 374.0 315.7 373.2 314.7C372.5 313.8 372.0 312.5 371.6 311.4C371.3 310.2 371.0 308.9 371.1 307.7Z" fill="none" stroke="#0c0c0c" stroke-width="0.85"/>
<path d="M373.1 307.7C373.2 306.7 373.1 305.5 373.4 304.6C373.8 303.7 374.6 302.8 375.3 302.2C376.0 301.5 376.9 301.0 377.8 300.6C378.6 300.3 379.6 300.4 380.5 300.2C381.3 300.0 382.1 299.6 382.9 299.5C383.7 299.4 384.6 299.6 385.5 299.8C386.3 300.0 387.1 300.4 387.9 300.8C388.8 301.2 389.7 301.5 390.7 302.1C391.6 302.6 393.0 303.3 393.7 304.2C394.3 305.1 394.6 306.5 394.6 307.7C394.6 308.9 394.1 310.1 393.6 311.2C393.1 312.2 392.4 313.2 391.6 314.0C390.8 314.8 389.9 315.5 389.0 316.1C388.0 316.6 387.0 316.9 386.0 317.3C385.0 317.6 383.9 318.0 382.9 317.9C381.9 317.9 380.8 317.6 379.8 317.2C378.8 316.8 378.0 316.2 377.1 315.7C376.2 315.1 375.2 314.5 374.6 313.7C373.9 312.9 373.4 311.9 373.2 310.9C373.0 309.8 373.1 308.7 373.1 307.7Z" fill="none" stroke="#0c0c0c" stroke-width="0.85"/>
<path d="M374.7 307.7C374.7 306.8 374.6 305.9 374.9 305.1C375.2 304.3 376.0 303.7 376.6 303.2C377.3 302.6 377.9 302.1 378.6 301.8C379.3 301.4 380.0 301.3 380.8 301.1C381.5 301.0 382.2 300.8 382.9 300.8C383.6 300.7 384.3 300.9 385.1 301.0C385.8 301.1 386.6 301.2 387.4 301.5C388.1 301.9 388.7 302.4 389.4 302.9C390.2 303.5 391.3 304.0 391.8 304.8C392.4 305.6 392.6 306.7 392.7 307.7C392.7 308.7 392.5 309.8 392.2 310.7C391.8 311.6 391.0 312.4 390.3 313.1C389.7 313.8 389.0 314.6 388.2 315.0C387.4 315.5 386.4 315.7 385.6 315.9C384.7 316.0 383.8 316.1 382.9 316.0C382.0 316.0 381.1 315.9 380.3 315.6C379.5 315.3 378.8 314.8 378.1 314.3C377.4 313.9 376.6 313.3 376.1 312.6C375.6 312.0 375.4 311.0 375.2 310.2C374.9 309.4 374.8 308.6 374.7 307.7Z" fill="none" stroke="#0c0c0c" stroke-width="0.85"/>
<path d="M369.9 307.7C370.1 306.4 370.6 305.1 371.1 303.9C371.6 302.7 372.2 301.5 373.0 300.5C373.9 299.6 375.0 298.9 376.1 298.3C377.2 297.8 378.3 297.4 379.4 297.1C380.6 296.7 381.8 296.3 382.9 296.3C384.0 296.4 385.0 297.2 386.2 297.5C387.4 297.7 388.9 297.4 390.1 297.8C391.3 298.2 392.3 299.2 393.3 300.1C394.3 301.1 395.5 302.1 396.2 303.4C396.9 304.6 397.3 306.2 397.5 307.7C397.6 309.2 397.4 310.9 396.9 312.3C396.4 313.7 395.4 314.9 394.5 316.1C393.6 317.3 392.6 318.4 391.4 319.4C390.2 320.4 389.0 321.6 387.5 322.0C386.1 322.4 384.4 322.0 382.9 321.9C381.4 321.8 379.8 322.0 378.4 321.5C377.0 321.1 375.6 320.2 374.6 319.1C373.6 318.1 373.1 316.6 372.4 315.4C371.7 314.1 370.7 313.1 370.3 311.8C369.9 310.5 369.8 309.0 369.9 307.7Z" fill="#1b1b1b"/>
<path d="M372.2 307.7C372.2 306.6 372.1 305.3 372.6 304.4C373.1 303.4 374.5 302.9 375.2 302.1C375.9 301.3 376.2 300.1 377.1 299.7C377.9 299.2 379.2 299.3 380.1 299.2C381.1 299.1 381.9 299.0 382.9 298.9C383.9 298.8 385.0 298.4 385.8 298.6C386.7 298.9 387.2 300.1 388.1 300.5C389.0 301.0 390.6 300.8 391.5 301.5C392.4 302.1 393.2 303.2 393.7 304.2C394.1 305.2 394.1 306.5 394.2 307.7C394.3 308.9 394.7 310.3 394.4 311.4C394.0 312.5 392.9 313.5 392.1 314.4C391.3 315.3 390.6 316.3 389.7 317.1C388.8 317.8 387.7 318.4 386.5 318.8C385.4 319.3 384.1 319.8 382.9 319.8C381.7 319.7 380.5 318.8 379.5 318.3C378.4 317.8 377.2 317.4 376.4 316.7C375.5 316.0 374.8 314.9 374.3 314.0C373.7 313.0 373.2 312.0 372.8 311.0C372.5 309.9 372.3 308.8 372.2 307.7Z" fill="none" stroke="#7a7a7a" stroke-width="0.40"/>
<path d="M374.9 307.7C375.0 306.9 375.8 306.2 376.1 305.5C376.5 304.8 376.3 303.8 376.8 303.3C377.3 302.8 378.3 302.7 379.0 302.4C379.7 302.1 380.3 301.7 380.9 301.5C381.5 301.4 382.2 301.6 382.9 301.6C383.6 301.6 384.2 301.5 384.9 301.5C385.7 301.5 386.6 301.3 387.3 301.6C388.0 301.9 388.5 302.6 389.1 303.2C389.7 303.8 390.7 304.3 391.0 305.1C391.3 305.8 391.1 306.8 391.0 307.7C391.0 308.6 390.9 309.4 390.6 310.2C390.4 311.0 389.9 311.7 389.5 312.5C389.0 313.2 388.6 314.0 387.9 314.6C387.3 315.2 386.4 315.6 385.6 315.9C384.7 316.2 383.7 316.7 382.9 316.6C382.1 316.4 381.3 315.4 380.5 315.0C379.7 314.7 378.7 314.9 377.9 314.5C377.2 314.1 376.5 313.4 376.1 312.6C375.7 311.9 375.8 310.9 375.6 310.1C375.4 309.3 374.8 308.5 374.9 307.7Z" fill="none" stroke="#7a7a7a" stroke-width="0.40"/>
<path d="M378.9 307.7C378.8 307.3 378.6 306.7 378.8 306.4C379.0 306.0 379.6 305.8 379.9 305.5C380.2 305.2 380.4 305.0 380.7 304.7C381.0 304.3 381.1 303.5 381.5 303.3C381.8 303.1 382.4 303.5 382.9 303.6C383.4 303.6 383.8 303.6 384.2 303.6C384.7 303.7 385.2 303.7 385.7 303.9C386.1 304.1 386.8 304.3 387.1 304.6C387.5 305.0 387.6 305.6 387.8 306.1C388.0 306.6 388.2 307.2 388.2 307.7C388.3 308.2 388.2 308.8 388.0 309.4C387.9 309.9 387.7 310.5 387.3 310.9C387.0 311.4 386.5 311.7 386.1 312.0C385.6 312.4 385.1 312.8 384.6 312.9C384.1 313.0 383.5 312.6 382.9 312.6C382.3 312.5 381.7 313.0 381.2 312.9C380.7 312.7 380.4 312.1 380.0 311.7C379.6 311.4 378.8 311.2 378.7 310.8C378.5 310.3 378.9 309.5 378.9 309.0C379.0 308.5 378.9 308.1 378.9 307.7Z" fill="none" stroke="#7a7a7a" stroke-width="0.40"/>
<path d="M381.8 305.4h0.8M374.9 312.5h1.1M380.0 310.8h1.1M388.1 309.9h1.1M381.9 305.4h0.8M391.5 303.7h0.8M391.4 307.6h0.8M381.8 315.1h1.5M376.6 311.2h0.8M386.9 316.2h1.5M375.7 308.6h1.1M386.5 308.8h1.1M382.1 304.3h0.8M385.5 306.4h1.5M374.8 299.9h0.8M382.3 304.5h1.1M373.3 306.6h0.8M393.0 304.5h0.8M388.9 301.0h1.5M376.5 315.9h0.8M384.8 301.0h1.1M395.0 304.6h1.1M380.1 309.4h0.8M380.2 307.5h1.5M386.7 316.6h1.1M386.0 299.9h0.8M372.4 310.5h1.5M377.3 305.5h1.5M384.0 315.7h0.8M377.2 300.4h1.1M378.8 308.9h1.1M394.1 306.1h1.1M373.2 311.2h1.5M385.4 303.5h1.5M373.5 309.3h1.5" fill="none" stroke="#d0d0d0" stroke-width="0.70"/>
<path d="M380.5 307.7l-6.5 -4.5l-1.5 5l2 5.5l5 -1Z" fill="#050505"/>
<path d="M386.1 307.2l5.5 -2.5l1.8 3l-2.2 3.5l-4.5 -1.5Z" fill="#080808"/>
<path d="M382.9 307.7m-1.5 0a1.5 1.7 0 1 0 3 0a1.5 1.7 0 1 0 -3 0Z" fill="#f4f4f4"/>
<circle cx="371.3" cy="279.4" r="0.55" fill="#acacac"/>
<circle cx="374.2" cy="283.3" r="0.65" fill="#7c7c7c"/>
<circle cx="382.9" cy="281.3" r="0.70" fill="#9a9a9a"/>
<circle cx="385.8" cy="284.2" r="0.60" fill="#c4c4c4"/>
<circle cx="390.6" cy="282.3" r="0.55" fill="#a8a8a8"/>
<circle cx="396.3" cy="276.5" r="0.70" fill="#c4c4c4"/>
<circle cx="399.2" cy="281.3" r="0.65" fill="#b8b8b8"/>
<circle cx="393.5" cy="285.2" r="0.60" fill="#7c7c7c"/>
<circle cx="398.3" cy="286.2" r="0.70" fill="#acacac"/>
<circle cx="402.1" cy="284.2" r="0.70" fill="#b8b8b8"/>
<circle cx="379.0" cy="286.2" r="0.60" fill="#9a9a9a"/>
<circle cx="389.6" cy="288.1" r="0.70" fill="#b8b8b8"/>
<circle cx="396.3" cy="289.0" r="0.65" fill="#9a9a9a"/>
<circle cx="406.9" cy="283.3" r="0.70" fill="#8c8c8c"/>
<circle cx="411.7" cy="281.3" r="0.65" fill="#8c8c8c"/>
<circle cx="420.4" cy="273.7" r="0.70" fill="#9a9a9a"/>
<circle cx="416.5" cy="283.3" r="0.65" fill="#a8a8a8"/>
<circle cx="425.2" cy="289.0" r="0.60" fill="#7c7c7c"/>
<circle cx="409.8" cy="290.0" r="0.55" fill="#b8b8b8"/>
<circle cx="407.9" cy="296.7" r="0.65" fill="#acacac"/>
<circle cx="410.8" cy="299.6" r="0.65" fill="#acacac"/>
<circle cx="414.6" cy="297.7" r="0.60" fill="#7c7c7c"/>
<circle cx="412.7" cy="303.5" r="0.65" fill="#c4c4c4"/>
<circle cx="408.8" cy="306.3" r="0.70" fill="#a8a8a8"/>
<circle cx="416.5" cy="301.5" r="0.65" fill="#9a9a9a"/>
<circle cx="420.4" cy="300.6" r="0.65" fill="#a8a8a8"/>
<circle cx="419.4" cy="305.4" r="0.55" fill="#8c8c8c"/>
<circle cx="413.7" cy="308.3" r="0.70" fill="#acacac"/>
<circle cx="414.6" cy="312.1" r="0.65" fill="#9a9a9a"/>
<circle cx="426.2" cy="304.4" r="0.70" fill="#a8a8a8"/>
<circle cx="429.0" cy="306.3" r="0.60" fill="#c4c4c4"/>
<circle cx="430.0" cy="310.2" r="0.65" fill="#b8b8b8"/>
<circle cx="434.8" cy="309.2" r="0.70" fill="#b8b8b8"/>
<circle cx="437.7" cy="304.4" r="0.55" fill="#b8b8b8"/>
<circle cx="427.1" cy="296.7" r="0.70" fill="#b4b4b4"/>
<circle cx="436.7" cy="299.6" r="0.70" fill="#8c8c8c"/>
<circle cx="441.5" cy="300.6" r="0.65" fill="#8c8c8c"/>
<circle cx="449.2" cy="296.7" r="0.55" fill="#b8b8b8"/>
<circle cx="433.8" cy="315.4" r="0.70" fill="#7c7c7c"/>
<circle cx="406.9" cy="315.4" r="0.65" fill="#b8b8b8"/>
<circle cx="363.7" cy="320.8" r="0.60" fill="#9a9a9a"/>
<circle cx="366.5" cy="324.6" r="0.65" fill="#c4c4c4"/>
<circle cx="373.3" cy="329.4" r="0.55" fill="#acacac"/>
<circle cx="380.0" cy="331.3" r="0.65" fill="#8c8c8c"/>
<circle cx="385.8" cy="332.3" r="0.55" fill="#b4b4b4"/>
<circle cx="391.5" cy="330.4" r="0.55" fill="#c4c4c4"/>
<circle cx="396.3" cy="326.5" r="0.70" fill="#a8a8a8"/>
<circle cx="399.2" cy="322.7" r="0.70" fill="#8c8c8c"/>
<circle cx="382.9" cy="334.2" r="0.70" fill="#c4c4c4"/>
<circle cx="378.1" cy="333.3" r="0.70" fill="#c4c4c4"/>
<circle cx="401.2" cy="288.1" r="0.60" fill="#b8b8b8"/>
<circle cx="403.1" cy="289.6" r="0.70" fill="#8c8c8c"/>
<circle cx="404.6" cy="286.5" r="0.55" fill="#9a9a9a"/>
<circle cx="383.8" cy="287.7" r="0.55" fill="#b8b8b8"/>
<circle cx="375.2" cy="288.1" r="0.60" fill="#a8a8a8"/>
<circle cx="406.5" cy="301.5" r="0.70" fill="#8c8c8c"/>
<circle cx="411.7" cy="306.3" r="0.70" fill="#8c8c8c"/>
<circle cx="422.3" cy="308.3" r="0.60" fill="#a8a8a8"/>
<circle cx="424.2" cy="301.5" r="0.60" fill="#a8a8a8"/>
<path d="M405.60 228.00V396.30" stroke="#4c4c4c" stroke-width="1.2" fill="none"/><path d="M347.50 292.90H516.40" stroke="#3a3a3a" stroke-width="1.15" fill="none"/>
<rect x="347.50" y="228.00" width="168.90" height="168.30" fill="none" stroke="#1e1e1e" stroke-width="1.3"/>
<path d="M431.5 396.3v2.8M439.1 396.3v2.8M444.4 396.3v2.8M448.6 396.3v2.8M452.0 396.3v2.8M454.9 396.3v2.8M457.4 396.3v2.8M459.6 396.3v2.8M473.2 396.3v2.8M480.0 396.3v2.8M484.8 396.3v2.8M488.5 396.3v2.8M491.6 396.3v2.8M494.1 396.3v2.8M496.4 396.3v2.8M498.3 396.3v2.8M511.4 396.3v3.0M418.5 396.3v5.1M461.6 396.3v5.1M500.1 396.3v5.1M350.5 396.3v2.8M352.6 396.3v2.8M355.4 396.3v2.8M358.3 396.3v2.8M362.7 396.3v2.8M366.1 396.3v2.8M369.8 396.3v2.8M381.1 396.3v2.8M387.7 396.3v2.8M391.2 396.3v2.8M394.7 396.3v2.8M397.7 396.3v2.8M400.7 396.3v2.8M403.5 396.3v2.8M406.5 396.3v2.8M409.1 396.3v2.8M411.2 396.3v2.8M413.1 396.3v2.8M414.8 396.3v2.8M416.2 396.3v2.8M417.4 396.3v2.8M372.6 396.3v5.1M378.1 396.3v5.1M384.1 396.3v5.1M347.5 312.3h-2.8M347.5 304.7h-2.8M347.5 299.4h-2.8M347.5 295.2h-2.8M347.5 291.8h-2.8M347.5 288.9h-2.8M347.5 286.4h-2.8M347.5 284.2h-2.8M347.5 270.6h-2.8M347.5 263.8h-2.8M347.5 259.0h-2.8M347.5 255.3h-2.8M347.5 252.2h-2.8M347.5 249.7h-2.8M347.5 247.4h-2.8M347.5 245.5h-2.8M347.5 232.4h-3.0M347.5 325.3h-5.1M347.5 282.2h-5.1M347.5 243.7h-5.1M347.5 393.3h-2.8M347.5 391.2h-2.8M347.5 388.4h-2.8M347.5 385.5h-2.8M347.5 381.1h-2.8M347.5 377.7h-2.8M347.5 374.0h-2.8M347.5 362.7h-2.8M347.5 356.1h-2.8M347.5 352.6h-2.8M347.5 349.1h-2.8M347.5 346.1h-2.8M347.5 343.1h-2.8M347.5 340.3h-2.8M347.5 337.3h-2.8M347.5 334.7h-2.8M347.5 332.6h-2.8M347.5 330.7h-2.8M347.5 329.0h-2.8M347.5 327.6h-2.8M347.5 326.4h-2.8M347.5 371.2h-5.1M347.5 365.7h-5.1M347.5 359.7h-5.1" stroke="#141414" stroke-width="1.0" fill="none"/>
<rect x="372.10" y="396.30" width="6.50" height="3.1" fill="#111"/>
<rect x="345.00" y="365.20" width="2.5" height="6.50" fill="#111"/>
<g font-family='"DejaVu Sans Condensed", "DejaVu Sans", "Liberation Sans", sans-serif' font-size="8.6" font-weight="normal" fill="#111" stroke="#111" stroke-width="0.4"><text x="375.70" y="416.60" text-anchor="middle">0</text><text x="409.60" y="416.60">10<tspan dy="-6.2" dx="0.5" font-size="7.5">3</tspan></text><text x="449.60" y="416.60">10<tspan dy="-6.2" dx="0.5" font-size="7.5">4</tspan></text><text x="485.20" y="416.60">10<tspan dy="-6.2" dx="0.5" font-size="7.5">5</tspan></text><text x="333.10" y="371.30" text-anchor="middle">0</text><text x="324.60" y="329.70">10<tspan dy="-6.0" dx="0.8" font-size="7.5">3</tspan></text><text x="324.60" y="286.60">10<tspan dy="-6.0" dx="0.8" font-size="7.5">4</tspan></text><text x="324.60" y="248.10">10<tspan dy="-6.0" dx="0.8" font-size="7.5">5</tspan></text></g>
<g font-family='"Liberation Sans", Arial, Helvetica, sans-serif' font-size="16" letter-spacing="-0.32" fill="#111" stroke="#111" stroke-width="0.28"><text x="353.00" y="245.80" text-anchor="start">1.1%</text><text x="512.40" y="245.80" text-anchor="end">0.12%</text><text x="352.60" y="388.80" text-anchor="start">98.1%</text><text x="512.60" y="388.80" text-anchor="end">0.67%</text></g>
<path d="M79.40 387.00V424.80H116.40M73.80 395.80L79.40 386.20L85.00 395.80M106.80 419.40L117.20 424.80L106.80 430.20" fill="none" stroke="#0d0d0d" stroke-width="1.9" stroke-linejoin="miter"/>
<path d="M313.80 390.30V428.20H350.70M308.20 399.10L313.80 389.50L319.40 399.10M341.10 422.80L351.50 428.20L341.10 433.60" fill="none" stroke="#0d0d0d" stroke-width="1.9" stroke-linejoin="miter"/>
<text transform="translate(84.3,373.5) rotate(-90)" font-family='"Liberation Sans", Arial, Helvetica, sans-serif' font-size="15" fill="#111">IFN-γ</text>
<text transform="translate(319.2,372.2) rotate(-90)" font-family='"Liberation Sans", Arial, Helvetica, sans-serif' font-size="15" fill="#111">IL-2</text>
<text x="132.30" y="429.30" font-family='"Liberation Sans", Arial, Helvetica, sans-serif' font-size="15.80" font-weight="normal" text-anchor="start" fill="#111" stroke="#111" stroke-width="0.3">TNF-α</text>
<text x="366.00" y="433.60" font-family='"Liberation Sans", Arial, Helvetica, sans-serif' font-size="15.80" font-weight="normal" text-anchor="start" fill="#111" stroke="#111" stroke-width="0.3">TNF-α</text>
</svg>
</body></html>
